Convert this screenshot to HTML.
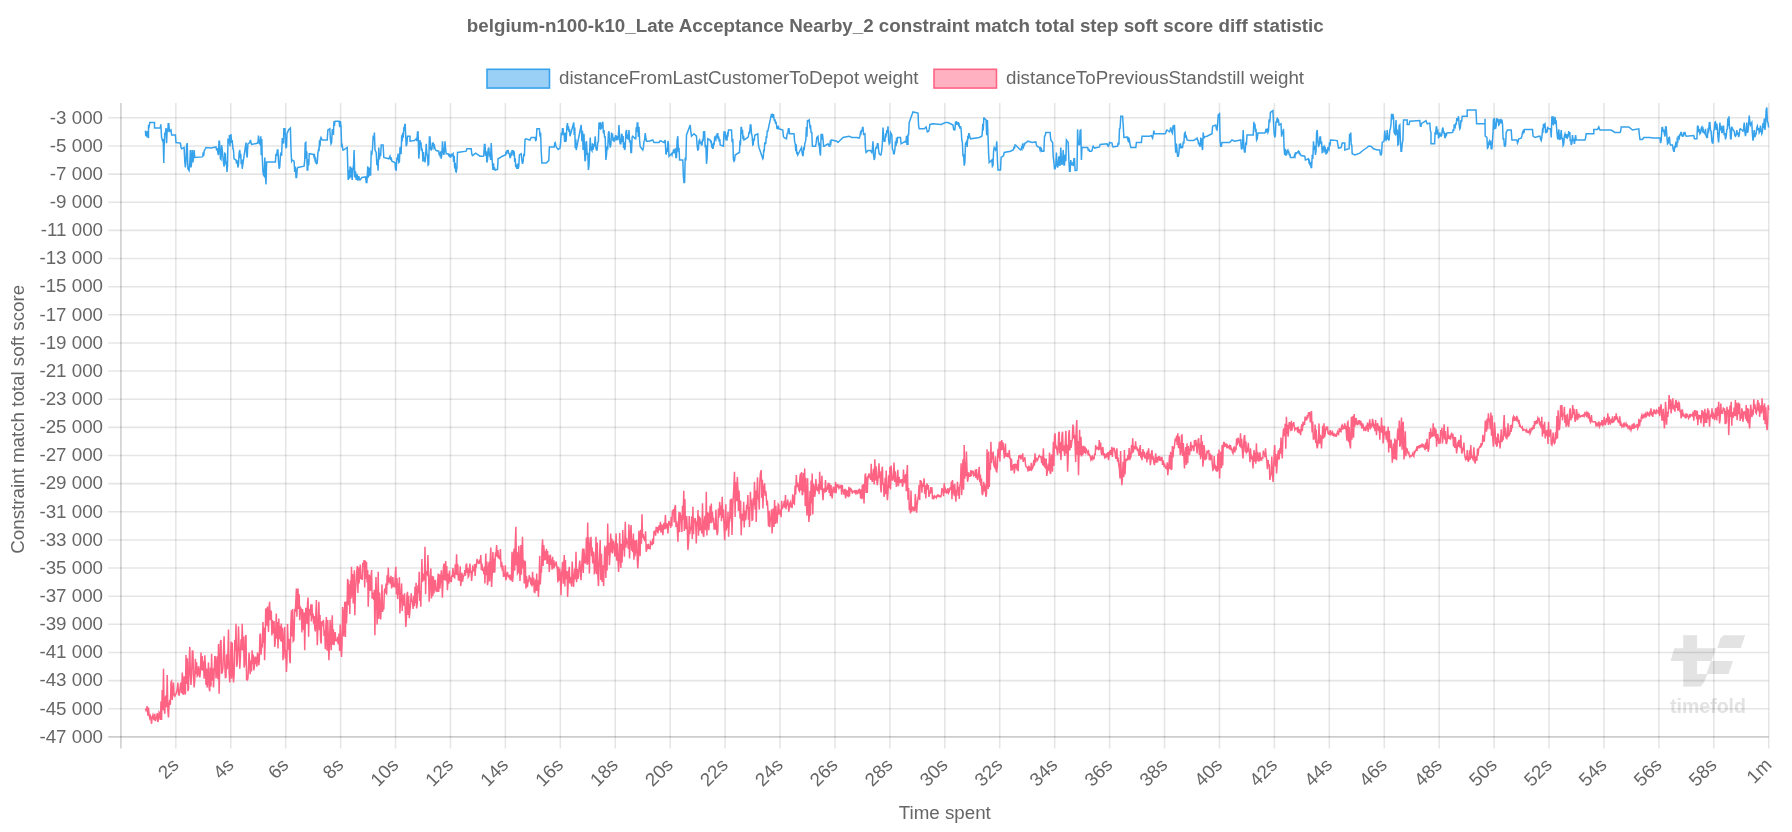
<!DOCTYPE html>
<html><head><meta charset="utf-8"><style>html,body{margin:0;padding:0;background:#fff;overflow:hidden}svg{display:block;will-change:transform}</style></head>
<body><svg width="1792" height="832" viewBox="0 0 1792 832">
<rect width="1792" height="832" fill="#fff"/><g fill="#e3e3e3"><polygon points="1683.22,635.19 1697.05,635.19 1697.05,686.62 1683.22,686.62"/><polygon points="1674.38,648.24 1715.85,648.24 1711.43,660.96 1670.51,660.96"/><polygon points="1723.59,635.19 1745.16,635.19 1740.73,647.91 1717.51,647.91 1720.27,638.51"/><polygon points="1710.87,660.96 1732.99,660.96 1728.57,673.90 1706.45,673.90"/><polygon points="1697.05,673.90 1707.56,673.90 1704.24,681.64 1700.92,686.62 1697.05,686.62"/></g><text x="1708" y="713.2" text-anchor="middle" fill="#e3e3e3" font-family="Liberation Sans" font-size="19.5" font-weight="bold">timefold</text><g stroke="rgba(0,0,0,0.1)" stroke-width="1.5625"><line x1="108.2" y1="736.90" x2="1768.75" y2="736.90"/><line x1="108.2" y1="708.76" x2="1768.75" y2="708.76"/><line x1="108.2" y1="680.62" x2="1768.75" y2="680.62"/><line x1="108.2" y1="652.48" x2="1768.75" y2="652.48"/><line x1="108.2" y1="624.34" x2="1768.75" y2="624.34"/><line x1="108.2" y1="596.20" x2="1768.75" y2="596.20"/><line x1="108.2" y1="568.06" x2="1768.75" y2="568.06"/><line x1="108.2" y1="539.92" x2="1768.75" y2="539.92"/><line x1="108.2" y1="511.78" x2="1768.75" y2="511.78"/><line x1="108.2" y1="483.64" x2="1768.75" y2="483.64"/><line x1="108.2" y1="455.50" x2="1768.75" y2="455.50"/><line x1="108.2" y1="427.36" x2="1768.75" y2="427.36"/><line x1="108.2" y1="399.22" x2="1768.75" y2="399.22"/><line x1="108.2" y1="371.08" x2="1768.75" y2="371.08"/><line x1="108.2" y1="342.94" x2="1768.75" y2="342.94"/><line x1="108.2" y1="314.80" x2="1768.75" y2="314.80"/><line x1="108.2" y1="286.66" x2="1768.75" y2="286.66"/><line x1="108.2" y1="258.52" x2="1768.75" y2="258.52"/><line x1="108.2" y1="230.38" x2="1768.75" y2="230.38"/><line x1="108.2" y1="202.24" x2="1768.75" y2="202.24"/><line x1="108.2" y1="174.10" x2="1768.75" y2="174.10"/><line x1="108.2" y1="145.96" x2="1768.75" y2="145.96"/><line x1="108.2" y1="117.82" x2="1768.75" y2="117.82"/><line x1="120.90" y1="103.1" x2="120.90" y2="748.6"/><line x1="175.83" y1="103.1" x2="175.83" y2="748.6"/><line x1="230.76" y1="103.1" x2="230.76" y2="748.6"/><line x1="285.68" y1="103.1" x2="285.68" y2="748.6"/><line x1="340.61" y1="103.1" x2="340.61" y2="748.6"/><line x1="395.54" y1="103.1" x2="395.54" y2="748.6"/><line x1="450.47" y1="103.1" x2="450.47" y2="748.6"/><line x1="505.40" y1="103.1" x2="505.40" y2="748.6"/><line x1="560.33" y1="103.1" x2="560.33" y2="748.6"/><line x1="615.25" y1="103.1" x2="615.25" y2="748.6"/><line x1="670.18" y1="103.1" x2="670.18" y2="748.6"/><line x1="725.11" y1="103.1" x2="725.11" y2="748.6"/><line x1="780.04" y1="103.1" x2="780.04" y2="748.6"/><line x1="834.97" y1="103.1" x2="834.97" y2="748.6"/><line x1="889.90" y1="103.1" x2="889.90" y2="748.6"/><line x1="944.82" y1="103.1" x2="944.82" y2="748.6"/><line x1="999.75" y1="103.1" x2="999.75" y2="748.6"/><line x1="1054.68" y1="103.1" x2="1054.68" y2="748.6"/><line x1="1109.61" y1="103.1" x2="1109.61" y2="748.6"/><line x1="1164.54" y1="103.1" x2="1164.54" y2="748.6"/><line x1="1219.47" y1="103.1" x2="1219.47" y2="748.6"/><line x1="1274.39" y1="103.1" x2="1274.39" y2="748.6"/><line x1="1329.32" y1="103.1" x2="1329.32" y2="748.6"/><line x1="1384.25" y1="103.1" x2="1384.25" y2="748.6"/><line x1="1439.18" y1="103.1" x2="1439.18" y2="748.6"/><line x1="1494.11" y1="103.1" x2="1494.11" y2="748.6"/><line x1="1549.04" y1="103.1" x2="1549.04" y2="748.6"/><line x1="1603.96" y1="103.1" x2="1603.96" y2="748.6"/><line x1="1658.89" y1="103.1" x2="1658.89" y2="748.6"/><line x1="1713.82" y1="103.1" x2="1713.82" y2="748.6"/><line x1="1768.75" y1="103.1" x2="1768.75" y2="748.6"/></g><g stroke="rgba(0,0,0,0.1)" stroke-width="1.5625"><line x1="108.2" y1="736.9" x2="1768.75" y2="736.9"/><line x1="120.9" y1="103.1" x2="120.9" y2="748.6"/></g><g fill="#666" font-family="Liberation Sans" font-size="18.75"><text x="103" y="742.70" text-anchor="end">-47 000</text><text x="103" y="714.56" text-anchor="end">-45 000</text><text x="103" y="686.42" text-anchor="end">-43 000</text><text x="103" y="658.28" text-anchor="end">-41 000</text><text x="103" y="630.14" text-anchor="end">-39 000</text><text x="103" y="602.00" text-anchor="end">-37 000</text><text x="103" y="573.86" text-anchor="end">-35 000</text><text x="103" y="545.72" text-anchor="end">-33 000</text><text x="103" y="517.58" text-anchor="end">-31 000</text><text x="103" y="489.44" text-anchor="end">-29 000</text><text x="103" y="461.30" text-anchor="end">-27 000</text><text x="103" y="433.16" text-anchor="end">-25 000</text><text x="103" y="405.02" text-anchor="end">-23 000</text><text x="103" y="376.88" text-anchor="end">-21 000</text><text x="103" y="348.74" text-anchor="end">-19 000</text><text x="103" y="320.60" text-anchor="end">-17 000</text><text x="103" y="292.46" text-anchor="end">-15 000</text><text x="103" y="264.32" text-anchor="end">-13 000</text><text x="103" y="236.18" text-anchor="end">-11 000</text><text x="103" y="208.04" text-anchor="end">-9 000</text><text x="103" y="179.90" text-anchor="end">-7 000</text><text x="103" y="151.76" text-anchor="end">-5 000</text><text x="103" y="123.62" text-anchor="end">-3 000</text><text transform="translate(176.33,762.50) rotate(-45)" text-anchor="end" dominant-baseline="middle">2s</text><text transform="translate(231.26,762.50) rotate(-45)" text-anchor="end" dominant-baseline="middle">4s</text><text transform="translate(286.18,762.50) rotate(-45)" text-anchor="end" dominant-baseline="middle">6s</text><text transform="translate(341.11,762.50) rotate(-45)" text-anchor="end" dominant-baseline="middle">8s</text><text transform="translate(396.04,762.50) rotate(-45)" text-anchor="end" dominant-baseline="middle">10s</text><text transform="translate(450.97,762.50) rotate(-45)" text-anchor="end" dominant-baseline="middle">12s</text><text transform="translate(505.90,762.50) rotate(-45)" text-anchor="end" dominant-baseline="middle">14s</text><text transform="translate(560.83,762.50) rotate(-45)" text-anchor="end" dominant-baseline="middle">16s</text><text transform="translate(615.75,762.50) rotate(-45)" text-anchor="end" dominant-baseline="middle">18s</text><text transform="translate(670.68,762.50) rotate(-45)" text-anchor="end" dominant-baseline="middle">20s</text><text transform="translate(725.61,762.50) rotate(-45)" text-anchor="end" dominant-baseline="middle">22s</text><text transform="translate(780.54,762.50) rotate(-45)" text-anchor="end" dominant-baseline="middle">24s</text><text transform="translate(835.47,762.50) rotate(-45)" text-anchor="end" dominant-baseline="middle">26s</text><text transform="translate(890.40,762.50) rotate(-45)" text-anchor="end" dominant-baseline="middle">28s</text><text transform="translate(945.32,762.50) rotate(-45)" text-anchor="end" dominant-baseline="middle">30s</text><text transform="translate(1000.25,762.50) rotate(-45)" text-anchor="end" dominant-baseline="middle">32s</text><text transform="translate(1055.18,762.50) rotate(-45)" text-anchor="end" dominant-baseline="middle">34s</text><text transform="translate(1110.11,762.50) rotate(-45)" text-anchor="end" dominant-baseline="middle">36s</text><text transform="translate(1165.04,762.50) rotate(-45)" text-anchor="end" dominant-baseline="middle">38s</text><text transform="translate(1219.97,762.50) rotate(-45)" text-anchor="end" dominant-baseline="middle">40s</text><text transform="translate(1274.89,762.50) rotate(-45)" text-anchor="end" dominant-baseline="middle">42s</text><text transform="translate(1329.82,762.50) rotate(-45)" text-anchor="end" dominant-baseline="middle">44s</text><text transform="translate(1384.75,762.50) rotate(-45)" text-anchor="end" dominant-baseline="middle">46s</text><text transform="translate(1439.68,762.50) rotate(-45)" text-anchor="end" dominant-baseline="middle">48s</text><text transform="translate(1494.61,762.50) rotate(-45)" text-anchor="end" dominant-baseline="middle">50s</text><text transform="translate(1549.54,762.50) rotate(-45)" text-anchor="end" dominant-baseline="middle">52s</text><text transform="translate(1604.46,762.50) rotate(-45)" text-anchor="end" dominant-baseline="middle">54s</text><text transform="translate(1659.39,762.50) rotate(-45)" text-anchor="end" dominant-baseline="middle">56s</text><text transform="translate(1714.32,762.50) rotate(-45)" text-anchor="end" dominant-baseline="middle">58s</text><text transform="translate(1769.25,762.50) rotate(-45)" text-anchor="end" dominant-baseline="middle">1m</text></g><text x="895.3" y="31.6" text-anchor="middle" fill="#666" font-family="Liberation Sans" font-size="18.75" font-weight="bold">belgium-n100-k10_Late Acceptance Nearby_2 constraint match total step soft score diff statistic</text><text x="944.8" y="819" text-anchor="middle" fill="#666" font-family="Liberation Sans" font-size="18.75">Time spent</text><text transform="translate(23.6,419.3) rotate(-90)" text-anchor="middle" fill="#666" font-family="Liberation Sans" font-size="18.75">Constraint match total soft score</text><rect x="487" y="69.3" width="62.5" height="18.75" fill="rgba(54,162,235,0.5)" stroke="rgb(54,162,235)" stroke-width="1.5625"/><text x="559" y="84" fill="#666" font-family="Liberation Sans" font-size="18.75">distanceFromLastCustomerToDepot weight</text><rect x="934" y="69.3" width="62.5" height="18.75" fill="rgba(255,99,132,0.5)" stroke="rgb(255,99,132)" stroke-width="1.5625"/><text x="1006" y="84" fill="#666" font-family="Liberation Sans" font-size="18.75">distanceToPreviousStandstill weight</text><polyline fill="none" stroke="rgb(54,162,235)" stroke-width="1.5" stroke-linejoin="miter" points="145.4,130.6 145.8,136.2 146.6,131.2 147.2,137.5 147.9,131.2 148.5,138.1 148.5,126.2 149.1,126.9 149.8,122.5 154.5,122.5 154.5,128.1 160.4,128.1 160.8,124.4 161.6,137.5 162.5,140.6 163.2,140.0 163.8,163.1 164.1,147.5 164.8,132.5 165.4,134.2 166.0,128.1 166.6,143.1 167.2,128.8 167.8,132.0 168.2,123.8 168.8,123.8 169.5,131.2 171.0,130.0 171.6,135.0 175.4,135.0 176.0,142.5 180.4,143.1 181.0,147.2 181.6,148.8 184.1,147.5 184.8,161.7 185.4,167.5 186.0,161.6 186.6,145.4 187.2,143.1 187.9,168.8 189.1,170.6 189.8,162.5 190.4,150.0 191.0,167.5 191.6,162.7 192.2,150.0 192.9,162.5 193.5,157.8 194.1,150.0 194.8,157.5 202.2,156.9 202.8,156.2 203.2,152.4 203.8,155.6 204.2,150.4 204.8,150.0 206.0,147.5 211.0,148.1 216.0,146.9 216.6,150.5 217.3,148.1 217.9,153.1 218.4,155.0 219.0,141.2 219.5,141.2 220.4,158.8 221.0,159.5 221.6,145.2 222.2,149.4 222.9,157.0 223.5,162.5 224.1,166.6 224.8,153.3 225.4,153.8 225.9,163.3 226.5,162.6 227.0,171.9 227.5,166.2 228.0,139.6 228.5,140.0 229.0,143.4 229.5,135.0 230.0,146.2 230.5,135.1 231.0,135.0 231.6,142.8 232.2,140.0 232.9,148.3 233.5,150.3 234.1,158.8 236.0,160.0 236.6,163.6 237.3,160.4 237.9,167.5 238.5,165.0 239.1,153.1 239.8,150.0 240.2,158.1 240.8,153.8 241.2,164.1 241.8,159.5 242.2,168.8 246.0,142.5 246.6,154.0 247.2,157.5 247.9,143.8 249.8,142.5 250.4,140.0 251.0,142.8 251.6,144.4 257.9,143.1 258.5,135.6 259.1,141.6 259.8,143.8 260.2,144.5 260.8,136.2 261.2,155.3 261.8,139.0 262.2,156.2 262.9,171.5 263.5,175.0 264.1,175.9 264.8,157.5 265.4,173.7 266.0,184.4 266.6,161.9 275.4,161.9 276.0,153.8 276.6,156.0 277.3,150.0 277.9,150.0 278.5,161.5 279.1,168.8 279.7,167.2 280.4,155.7 281.0,152.5 281.6,155.8 282.3,138.1 282.9,141.2 283.4,143.6 283.9,128.1 284.5,134.5 285.0,128.1 285.5,142.9 286.0,147.5 286.5,147.1 287.0,133.0 287.5,132.5 288.5,130.0 290.4,128.1 291.0,150.0 291.6,161.2 292.2,160.0 294.1,161.2 294.7,172.0 295.4,166.6 296.0,177.5 296.6,177.5 297.3,168.3 297.9,167.5 304.1,166.2 304.7,160.7 305.2,143.1 305.8,142.5 306.2,158.6 306.8,151.3 307.2,170.0 307.8,170.0 308.2,159.4 308.8,165.1 309.2,153.8 309.8,153.8 313.5,154.4 314.0,156.7 314.5,155.6 315.1,160.2 315.6,159.2 316.1,163.4 316.6,163.8 317.2,163.1 317.9,153.1 318.5,150.0 319.0,151.2 319.5,140.3 320.0,146.4 320.5,138.8 321.0,137.5 322.2,140.0 327.2,140.0 327.9,130.0 329.8,128.8 330.4,139.2 331.0,143.8 331.6,142.5 332.3,129.8 332.9,130.0 333.4,135.0 333.9,121.2 334.4,126.0 334.9,121.4 335.4,121.2 339.1,121.2 339.7,127.2 340.4,121.2 341.0,126.9 341.6,145.7 342.2,145.0 342.9,150.0 343.5,150.0 347.2,147.5 347.8,167.6 348.2,180.0 348.9,170.0 349.5,178.8 350.1,166.2 350.8,177.5 351.5,167.5 352.2,180.0 353.0,170.0 353.6,164.0 354.1,150.0 354.8,177.5 355.5,171.2 356.2,180.0 357.0,173.8 357.9,180.6 358.8,176.2 359.4,179.1 360.0,180.0 360.0,180.0 361.9,177.5 365.6,176.9 366.2,182.5 366.9,182.5 367.8,166.2 368.2,177.7 368.8,175.0 369.4,167.5 370.0,175.0 370.6,175.0 371.2,152.5 371.9,153.6 372.5,148.8 373.1,137.5 373.8,138.7 374.4,132.5 375.0,150.0 376.2,152.5 376.9,165.1 377.5,159.3 378.1,170.6 378.8,147.5 379.4,159.3 380.0,153.8 380.6,156.1 381.2,145.0 383.1,145.0 383.8,157.5 388.8,158.8 390.0,156.2 390.6,159.0 391.3,158.4 391.9,161.2 395.0,162.5 395.6,169.5 396.2,170.0 396.9,157.5 397.5,160.2 398.1,153.6 398.8,162.5 399.4,161.8 400.0,147.8 400.6,147.5 401.1,154.3 401.7,135.2 402.2,141.5 402.7,132.7 403.2,137.6 403.8,128.8 404.2,129.2 404.8,124.4 405.2,124.4 405.8,138.1 406.2,146.2 406.9,143.8 407.5,136.2 410.0,136.2 410.0,141.2 414.4,140.6 416.2,138.8 416.9,140.9 417.5,131.9 418.1,131.9 418.8,158.8 419.4,151.3 420.0,140.0 420.5,145.5 421.0,142.4 421.5,150.7 422.0,148.3 422.5,152.5 423.0,161.6 423.5,152.0 424.0,160.6 424.5,157.9 425.0,162.5 425.6,156.7 426.2,143.8 426.9,154.5 427.5,155.0 428.1,165.0 428.7,164.3 429.4,136.9 430.0,136.9 430.6,149.1 431.2,150.0 431.9,148.9 432.5,142.5 433.0,145.0 433.5,144.2 434.0,147.6 434.5,146.3 435.0,148.8 436.2,150.6 438.8,151.2 439.2,155.2 439.8,152.2 440.2,157.1 440.8,151.4 441.2,158.8 441.9,153.8 442.5,141.2 443.1,150.1 443.8,155.0 444.4,151.2 445.0,141.2 445.6,148.6 446.2,153.8 448.1,153.8 448.7,155.5 449.4,154.8 450.0,156.9 450.5,156.9 451.0,155.0 451.6,155.8 452.1,154.3 452.6,154.6 453.1,153.8 453.6,162.0 454.2,155.8 454.7,168.4 455.2,162.7 455.7,171.4 456.2,171.9 456.9,168.0 457.5,152.5 466.2,151.2 466.9,148.8 471.2,148.8 471.9,154.6 472.5,155.6 475.6,153.1 480.0,156.2 483.1,156.2 483.7,156.0 484.4,144.4 485.0,144.4 485.6,155.8 486.3,151.4 486.9,162.5 487.5,159.9 488.1,149.3 488.8,147.5 489.4,155.0 490.0,154.1 490.6,160.0 491.2,143.1 491.9,155.8 492.5,165.0 493.0,170.0 493.5,163.2 494.0,170.0 494.5,167.3 495.0,170.0 497.5,169.4 498.1,158.8 502.5,156.2 505.0,155.0 505.5,155.0 506.0,151.7 506.6,154.2 507.1,150.0 507.6,152.1 508.1,150.0 508.7,153.5 509.4,154.0 510.0,157.5 510.5,157.2 511.0,154.0 511.6,155.6 512.1,150.1 512.6,153.5 513.1,150.0 513.6,155.6 514.2,151.2 514.7,161.9 515.2,158.2 515.7,167.3 516.2,165.0 516.9,168.8 517.5,163.5 518.1,168.8 518.8,166.1 519.4,155.0 521.2,153.8 521.9,160.8 522.5,163.8 523.1,161.7 523.8,153.8 524.4,156.0 525.0,139.7 525.6,138.8 530.0,140.0 531.2,137.5 535.0,137.5 535.6,140.6 536.2,140.2 536.9,128.8 537.5,128.8 539.4,128.8 540.0,136.8 540.6,132.5 541.2,151.2 541.9,163.1 542.5,163.1 546.2,163.1 548.8,160.6 549.4,146.9 553.8,146.9 554.2,146.9 554.8,142.8 555.2,142.5 555.8,145.5 556.2,146.9 558.1,149.4 560.0,148.1 560.6,143.1 561.2,133.8 561.9,134.3 562.5,128.8 563.1,128.8 563.6,135.3 564.1,132.5 564.6,141.9 565.1,132.8 565.6,141.9 566.2,140.4 566.9,126.2 567.5,123.1 568.0,129.9 568.5,126.4 569.0,132.0 569.5,129.1 570.0,136.2 573.8,122.5 574.2,134.9 574.8,127.5 575.2,148.1 575.8,139.2 576.2,150.0 581.2,125.0 581.9,141.2 582.5,130.7 583.1,150.0 584.0,133.8 584.5,151.1 585.0,161.2 585.5,159.7 586.0,142.4 586.5,141.2 587.1,154.8 587.8,152.8 588.4,170.0 589.0,165.9 589.6,152.5 590.2,137.5 590.9,149.8 591.5,150.0 592.0,150.9 592.5,143.2 593.0,150.0 593.5,144.3 594.0,146.2 594.6,144.5 595.2,136.2 595.9,147.6 596.5,150.0 597.1,150.0 597.8,142.5 598.4,141.5 599.0,122.5 599.6,128.8 600.3,122.2 600.9,128.8 601.5,128.2 602.1,123.6 602.8,121.9 603.4,133.3 604.0,130.0 604.6,137.7 605.2,136.2 605.9,160.0 606.5,155.3 607.1,146.2 607.7,149.7 608.4,132.9 609.0,131.2 609.6,142.7 610.2,147.5 610.9,144.4 611.5,132.5 612.0,137.9 612.5,133.6 613.0,141.0 613.5,137.5 614.0,141.2 614.6,141.0 615.3,136.5 615.9,135.0 616.5,140.4 617.1,136.2 617.8,140.0 618.4,135.3 619.0,125.0 619.6,139.7 620.2,143.8 620.9,143.8 621.5,133.7 622.1,135.0 622.6,142.2 623.1,136.1 623.6,147.9 624.1,142.2 624.6,150.0 625.2,147.6 625.9,132.4 626.5,130.0 627.1,138.6 627.8,134.7 628.4,140.0 629.0,130.0 629.6,142.4 630.3,140.4 630.9,152.5 631.5,152.5 632.1,137.3 632.8,136.2 635.2,138.8 635.8,138.8 636.2,127.3 636.8,131.8 637.2,123.1 637.8,123.1 638.4,136.9 639.0,126.9 639.6,140.0 640.2,146.7 640.9,147.5 642.8,150.0 643.4,147.4 644.0,141.2 644.6,140.5 645.2,133.1 645.9,137.9 646.5,141.2 649.0,141.2 652.8,140.0 654.0,142.5 659.0,142.5 660.2,140.6 664.0,142.5 665.2,140.0 665.9,153.8 666.4,154.0 666.9,148.3 667.4,151.9 667.9,141.0 668.4,143.8 669.0,156.2 671.5,153.8 672.0,155.0 672.5,151.8 673.0,153.5 673.5,150.0 674.0,150.0 674.6,153.3 675.3,148.3 675.9,157.5 676.5,157.5 677.1,140.2 677.8,136.2 678.4,152.2 679.0,147.8 679.6,160.0 682.8,160.0 683.4,176.4 684.0,182.5 684.6,182.5 685.2,157.5 685.9,160.6 686.5,135.0 690.2,125.0 690.9,131.9 691.5,136.2 694.0,133.8 696.5,136.2 697.1,145.7 697.8,150.0 698.4,149.6 699.0,141.1 699.6,140.0 700.2,142.9 700.9,142.5 701.5,145.0 702.0,145.0 702.5,139.4 703.1,141.2 703.6,131.2 704.1,136.0 704.6,131.2 705.2,147.4 705.9,145.0 706.5,163.8 707.1,158.2 707.8,138.8 710.2,140.0 710.8,142.6 711.2,140.5 711.8,147.8 712.2,143.6 712.8,148.8 713.2,147.7 713.8,143.3 714.2,143.6 714.8,136.4 715.2,138.8 715.8,139.9 716.2,136.2 716.8,136.7 717.2,133.8 717.8,133.8 718.2,139.4 718.8,136.6 719.2,141.8 719.8,139.1 720.2,145.0 723.4,146.2 724.0,131.2 724.5,136.4 725.0,131.2 725.5,137.9 726.0,136.9 726.5,140.0 727.0,140.0 727.5,134.1 728.0,134.9 728.5,130.0 729.0,130.0 731.5,130.0 732.1,142.1 732.8,138.8 733.4,159.2 734.0,161.2 734.6,160.2 735.2,155.0 739.0,152.5 739.5,152.5 740.0,140.3 740.5,145.3 741.0,127.6 741.5,127.5 742.0,134.1 742.5,129.7 743.0,139.1 743.5,135.7 744.0,140.0 747.8,137.5 748.4,136.3 749.0,132.5 749.6,132.7 750.3,125.0 750.9,125.0 751.5,133.7 752.1,136.0 752.8,145.0 753.2,144.7 753.8,138.5 754.2,140.6 754.8,135.3 755.2,135.0 757.8,133.8 758.4,144.5 759.0,147.5 762.8,158.8 763.2,158.0 763.8,149.6 764.2,151.5 764.8,142.2 765.2,143.8 765.8,143.3 766.2,137.0 766.8,137.2 767.2,131.2 767.8,131.2 771.5,113.8 772.0,115.9 772.5,115.1 773.0,117.8 773.5,114.0 774.0,118.8 774.5,121.1 775.0,119.4 775.5,123.7 776.0,121.7 776.5,125.0 777.0,128.8 777.5,125.8 778.0,128.0 778.5,127.0 779.0,128.8 782.8,130.0 783.4,136.3 784.0,137.5 786.5,138.8 787.1,133.8 787.7,133.7 788.4,128.8 789.0,128.8 789.6,133.8 794.0,133.8 794.6,141.4 795.2,143.8 795.8,151.3 796.2,144.4 796.8,154.1 797.2,151.8 797.8,155.0 801.5,147.5 802.1,152.8 802.8,156.2 803.2,154.7 803.8,146.9 804.2,149.9 804.8,143.7 805.2,142.5 805.8,140.2 806.4,127.1 806.9,136.8 807.5,120.0 808.0,121.2 809.2,120.0 809.9,126.4 810.5,125.0 811.1,132.4 811.8,132.5 812.4,146.2 815.5,146.2 816.1,143.4 816.8,137.5 818.0,136.2 818.6,144.3 819.2,143.8 819.9,152.2 820.5,155.6 821.1,133.8 821.7,139.7 822.4,133.9 823.0,138.8 823.6,146.2 824.2,146.2 828.0,143.8 829.2,146.2 829.8,146.2 830.2,142.4 830.8,143.4 831.2,140.0 831.8,140.0 836.8,141.2 838.0,142.5 843.0,137.5 849.2,136.2 851.8,137.5 856.8,137.5 859.2,138.1 859.9,136.2 860.5,132.5 861.0,133.3 861.5,129.8 862.0,131.4 862.5,127.5 863.0,127.5 863.6,134.4 864.9,133.8 865.5,148.4 866.1,152.5 868.0,150.6 870.5,150.6 871.8,152.5 872.4,149.2 873.0,141.2 873.6,154.6 874.2,160.0 874.9,157.2 875.5,149.0 876.1,147.5 876.7,147.8 877.4,143.8 878.0,143.8 878.6,149.7 879.2,153.8 880.5,155.0 881.1,154.6 881.8,150.0 882.4,143.0 883.0,127.5 883.6,137.4 884.2,141.2 884.9,141.2 885.5,135.0 886.1,135.8 886.8,130.0 887.4,133.0 888.0,126.2 888.6,139.4 889.2,143.8 889.9,142.9 890.5,132.5 891.8,135.0 892.4,149.2 893.0,150.0 893.6,153.8 894.2,153.8 894.9,149.5 895.5,141.2 896.0,146.1 896.5,137.9 897.0,143.4 897.5,137.5 898.0,137.5 900.5,137.5 901.1,143.8 905.5,141.2 906.0,142.8 906.5,135.9 907.0,145.0 907.5,138.7 908.0,145.0 908.0,135.0 908.6,134.9 909.2,122.5 913.0,111.9 918.0,113.1 918.6,125.6 919.2,128.8 924.2,128.8 926.1,126.9 926.8,129.9 927.4,131.9 928.6,131.2 929.2,129.4 929.9,124.4 933.0,123.8 941.1,124.4 945.5,122.5 948.0,122.5 953.0,125.0 953.6,129.2 954.2,130.0 954.9,129.8 955.5,122.2 956.1,121.9 956.6,124.8 957.2,121.9 957.7,124.4 958.2,122.2 958.7,126.3 959.2,125.0 959.9,128.6 960.5,126.1 961.1,128.8 961.8,140.0 962.4,142.5 963.0,156.5 963.6,154.2 964.2,165.6 964.9,162.1 965.5,143.8 966.8,141.2 967.2,147.0 967.8,135.8 968.2,139.2 968.8,133.8 969.2,133.8 969.9,137.3 970.5,138.8 979.2,137.5 981.8,136.2 982.2,134.0 982.8,123.7 983.2,130.4 983.8,118.1 984.2,118.1 986.1,120.0 986.7,135.2 987.4,120.0 988.0,136.2 988.6,153.1 989.2,162.5 991.8,160.0 992.4,166.2 993.0,165.2 993.6,151.1 994.2,147.5 995.5,150.0 996.1,148.2 996.8,141.2 997.4,159.8 998.0,170.0 1000.5,170.0 1001.1,157.5 1003.0,156.2 1003.6,155.7 1004.2,152.5 1010.5,151.2 1013.0,150.0 1013.5,149.8 1014.0,146.6 1014.5,148.7 1015.0,145.0 1015.5,145.0 1018.0,147.5 1020.5,150.0 1021.0,149.9 1021.5,147.7 1022.0,148.7 1022.5,145.0 1023.0,146.2 1023.5,147.3 1024.0,144.2 1024.5,144.7 1025.0,143.2 1025.5,143.1 1028.0,141.2 1032.0,142.5 1035.8,141.9 1036.4,144.7 1037.0,146.2 1039.5,147.5 1040.0,149.6 1040.5,148.4 1041.0,150.6 1041.5,149.4 1042.0,151.2 1043.9,151.2 1044.5,136.2 1045.1,136.0 1045.8,132.5 1050.1,132.5 1050.8,140.0 1052.6,142.5 1053.2,156.7 1053.9,162.5 1054.5,168.8 1055.1,168.8 1055.8,164.9 1056.4,152.5 1057.0,164.2 1057.6,167.5 1058.2,164.9 1058.9,156.2 1059.5,164.9 1060.1,165.0 1060.8,147.5 1061.4,159.8 1062.0,165.0 1062.6,161.0 1063.2,150.0 1063.9,165.0 1064.5,165.0 1065.1,154.5 1065.8,161.2 1066.4,140.0 1068.2,142.5 1068.9,160.8 1069.5,171.2 1070.1,171.2 1070.8,160.0 1071.4,165.4 1072.0,162.4 1072.6,165.0 1073.2,165.3 1073.9,158.8 1074.5,158.8 1075.1,170.6 1075.8,170.6 1077.0,170.0 1077.6,129.4 1078.2,144.6 1078.9,143.8 1079.5,145.1 1080.1,130.6 1080.8,130.0 1081.4,160.0 1082.0,147.5 1087.6,147.5 1088.2,150.0 1088.9,149.5 1089.5,151.2 1091.4,151.2 1092.0,150.7 1092.6,147.4 1093.2,146.2 1094.5,148.1 1099.5,146.9 1100.1,144.4 1107.0,143.8 1108.2,146.2 1108.9,145.2 1109.5,142.5 1112.0,143.1 1112.6,146.3 1113.2,146.9 1117.0,146.2 1117.6,146.2 1118.2,142.5 1118.9,144.6 1119.5,128.8 1120.1,128.1 1120.8,116.2 1122.6,116.2 1123.2,125.0 1123.9,137.5 1124.5,137.5 1127.0,136.9 1127.5,138.6 1128.0,136.9 1128.5,142.5 1129.0,137.7 1129.5,140.6 1130.1,144.6 1130.8,147.5 1135.8,147.5 1136.4,142.5 1141.4,142.5 1142.0,136.2 1149.5,136.2 1151.4,135.6 1152.6,138.1 1153.2,134.9 1153.9,130.6 1154.5,133.7 1155.1,133.8 1157.0,133.8 1165.1,133.8 1165.7,133.2 1166.4,130.7 1167.0,130.0 1169.5,131.9 1170.1,130.2 1170.8,127.5 1171.4,130.8 1172.0,132.5 1172.5,133.4 1173.0,125.6 1173.5,129.4 1174.0,125.6 1174.5,125.6 1175.1,140.0 1175.7,152.7 1176.4,143.5 1177.0,150.0 1177.6,156.2 1178.2,156.2 1178.9,153.4 1179.5,143.8 1180.0,148.5 1180.5,143.2 1181.0,148.4 1181.5,145.8 1182.0,147.5 1182.6,147.5 1183.2,142.5 1183.9,142.7 1184.5,133.3 1185.1,132.5 1185.7,136.9 1186.4,136.4 1187.0,140.0 1189.5,140.6 1193.2,140.6 1194.5,140.0 1197.0,138.1 1197.5,140.1 1198.0,140.2 1198.5,144.3 1199.0,142.6 1199.5,145.0 1200.1,146.7 1200.8,138.4 1201.4,138.8 1202.0,146.9 1202.6,150.0 1203.2,132.5 1203.9,138.4 1204.5,136.9 1207.0,136.2 1212.0,133.8 1212.6,126.2 1215.8,125.0 1216.4,129.3 1217.0,130.0 1217.6,125.3 1218.2,115.0 1219.5,113.8 1220.1,141.0 1220.8,146.2 1221.4,146.2 1222.0,142.5 1229.5,142.5 1232.0,140.0 1234.5,141.2 1240.8,140.0 1241.4,148.8 1242.0,148.8 1242.6,144.8 1243.2,130.0 1243.9,148.1 1244.5,151.9 1245.1,151.9 1245.8,142.4 1246.4,145.0 1247.0,135.0 1253.2,135.0 1253.9,121.9 1254.4,128.5 1254.9,123.8 1255.5,132.0 1256.0,128.8 1256.6,140.0 1257.2,138.8 1257.9,133.1 1264.8,133.1 1265.4,132.2 1266.0,128.8 1266.6,131.1 1267.3,129.7 1267.9,132.5 1268.5,130.8 1269.1,119.2 1269.8,122.5 1270.4,112.5 1272.9,110.6 1273.5,122.5 1274.1,132.8 1274.8,137.5 1275.4,134.8 1276.0,121.2 1276.6,122.7 1277.2,117.5 1277.9,121.2 1278.5,120.4 1279.1,125.0 1281.0,123.8 1281.6,136.7 1282.2,132.5 1282.9,134.2 1283.5,128.8 1284.1,148.8 1284.7,155.0 1285.4,148.9 1286.0,155.0 1286.6,154.7 1287.3,150.8 1287.9,150.0 1288.4,152.4 1288.9,152.1 1289.4,155.5 1289.9,153.6 1290.4,157.5 1293.5,157.5 1294.0,157.5 1294.5,155.5 1295.0,156.5 1295.5,152.3 1296.0,153.8 1298.5,151.2 1299.0,153.0 1299.5,152.5 1300.0,154.4 1300.5,154.3 1301.0,155.6 1304.8,156.2 1305.4,160.0 1308.5,158.8 1309.0,162.0 1309.5,161.2 1310.0,165.5 1310.5,162.0 1311.0,167.5 1311.6,167.5 1312.2,156.2 1312.9,157.1 1313.5,141.2 1314.1,150.0 1314.8,145.5 1315.4,155.0 1316.0,151.3 1316.6,132.9 1317.2,130.0 1317.9,142.5 1318.5,146.2 1319.1,145.6 1319.8,137.6 1320.4,136.2 1321.0,144.1 1321.6,141.5 1322.2,152.5 1322.9,152.1 1323.5,146.8 1324.1,146.2 1324.7,150.6 1325.4,148.9 1326.0,153.8 1326.5,153.7 1327.0,150.7 1327.5,151.4 1328.0,147.2 1328.5,148.8 1329.0,149.7 1329.5,142.3 1330.0,146.2 1330.5,140.0 1331.0,140.0 1337.2,140.6 1337.9,144.9 1338.5,148.1 1341.0,147.5 1341.6,145.7 1342.2,143.1 1344.8,143.1 1344.8,150.0 1348.5,148.8 1349.1,148.8 1349.6,133.8 1350.2,140.9 1350.8,132.5 1351.2,144.6 1351.8,145.1 1352.2,153.8 1354.8,155.0 1359.8,153.1 1363.5,150.0 1367.2,147.5 1368.5,146.2 1371.0,146.2 1373.5,148.8 1377.2,150.0 1379.8,150.0 1380.4,154.7 1381.0,155.0 1381.6,153.3 1382.2,142.5 1384.1,141.2 1384.8,130.6 1385.4,138.7 1386.0,140.0 1386.6,138.5 1387.2,130.0 1387.9,138.9 1388.5,140.0 1389.1,139.9 1389.8,129.9 1390.4,128.8 1391.0,124.2 1391.6,113.8 1392.2,119.3 1392.9,113.8 1393.5,117.5 1394.1,132.3 1394.8,133.8 1395.4,134.4 1396.0,120.0 1396.6,134.6 1397.3,129.6 1397.9,145.0 1398.5,144.5 1399.1,125.8 1399.8,125.0 1400.4,140.3 1401.0,151.2 1401.6,151.2 1402.2,143.8 1402.9,140.1 1403.5,120.0 1404.1,120.0 1407.2,120.0 1407.2,124.4 1409.1,124.4 1409.8,121.2 1419.8,120.6 1420.4,126.2 1421.0,126.2 1421.6,123.3 1422.2,123.1 1426.0,120.6 1426.6,122.5 1427.2,123.8 1429.8,123.1 1430.4,130.7 1431.0,132.5 1431.0,143.8 1434.1,143.8 1434.6,143.8 1435.1,132.1 1435.6,135.0 1436.1,128.2 1436.6,126.2 1437.2,132.4 1437.9,131.1 1438.5,137.5 1439.1,137.0 1439.8,132.5 1440.4,135.7 1441.0,136.2 1441.6,135.4 1442.3,129.7 1442.9,127.5 1443.5,132.4 1444.1,132.2 1444.8,137.5 1445.2,137.5 1445.8,133.2 1446.2,136.3 1446.8,133.1 1447.2,133.1 1452.2,132.5 1452.8,132.1 1453.2,129.1 1453.8,130.9 1454.2,124.2 1454.8,126.2 1455.2,127.0 1455.8,123.0 1456.2,124.6 1456.8,118.0 1457.2,120.0 1457.9,120.5 1458.5,116.2 1459.1,124.3 1459.8,128.8 1460.4,127.6 1461.0,120.0 1461.6,122.2 1462.2,116.2 1467.2,116.2 1467.2,110.0 1476.0,110.0 1476.6,123.8 1480.0,123.8 1485.0,123.8 1485.0,118.8 1485.2,136.2 1486.9,137.5 1487.5,148.1 1488.1,147.4 1488.8,142.6 1489.4,141.2 1490.0,145.2 1490.6,140.6 1491.2,148.8 1491.9,148.8 1492.5,140.0 1493.0,133.1 1493.5,118.8 1494.0,129.8 1494.5,118.1 1495.0,125.0 1495.6,128.8 1496.2,125.7 1496.9,118.1 1497.5,121.8 1498.1,119.1 1498.8,125.0 1499.4,124.2 1500.0,119.6 1500.6,119.4 1501.2,123.4 1501.9,119.7 1502.5,123.8 1503.1,138.9 1503.8,138.8 1504.4,145.9 1505.0,146.2 1505.6,144.8 1506.2,132.5 1507.5,130.0 1511.2,130.0 1511.9,140.0 1516.9,140.0 1517.5,143.1 1518.1,141.8 1518.8,138.8 1521.2,138.1 1521.9,136.0 1522.5,132.5 1523.0,133.0 1523.5,129.6 1524.0,132.9 1524.5,129.4 1525.0,129.4 1532.5,129.4 1533.1,136.2 1535.0,137.5 1538.8,136.2 1540.0,136.2 1540.6,139.6 1541.2,140.6 1541.9,137.2 1542.5,130.0 1543.0,130.9 1543.5,123.8 1544.0,128.1 1544.5,124.3 1545.0,123.8 1545.6,132.5 1546.1,132.5 1546.6,129.4 1547.1,132.5 1547.6,126.7 1548.1,128.8 1550.6,128.8 1551.2,137.5 1551.9,116.2 1552.5,124.6 1553.1,116.2 1553.8,123.8 1554.4,122.8 1555.0,116.9 1555.6,122.7 1556.2,121.9 1556.9,132.2 1557.5,137.5 1558.1,139.5 1558.8,129.4 1559.4,137.7 1560.0,140.0 1560.6,136.3 1561.2,130.0 1561.9,139.2 1562.5,137.7 1563.1,145.6 1563.7,144.4 1564.4,135.8 1565.0,133.8 1565.5,135.9 1566.0,134.2 1566.5,136.9 1567.0,135.7 1567.5,137.5 1568.1,136.5 1568.8,131.2 1569.2,135.4 1569.8,132.1 1570.2,141.3 1570.8,139.9 1571.2,145.0 1571.9,143.0 1572.5,135.0 1573.1,140.9 1573.8,138.9 1574.4,143.8 1575.0,140.1 1575.6,135.0 1576.2,140.0 1585.0,140.0 1585.6,138.1 1586.2,133.8 1593.8,133.8 1593.8,129.4 1597.5,129.4 1598.8,126.9 1599.4,129.0 1600.0,130.0 1611.2,130.0 1615.0,132.5 1620.0,132.5 1620.6,131.5 1621.2,126.9 1628.8,126.9 1632.5,130.0 1638.8,128.8 1639.4,135.4 1640.0,139.4 1642.5,139.4 1643.8,137.5 1650.0,137.5 1652.5,138.1 1660.0,138.1 1660.6,143.1 1661.2,140.6 1661.9,127.7 1662.5,127.5 1663.1,130.8 1663.8,130.4 1664.4,133.8 1665.0,136.5 1665.6,126.9 1666.2,126.9 1666.9,136.7 1667.5,143.8 1668.1,143.1 1668.8,138.0 1669.4,137.5 1670.0,143.7 1670.6,145.0 1672.5,145.0 1673.1,149.0 1673.8,151.2 1674.2,151.2 1674.8,145.8 1675.2,148.0 1675.8,143.2 1676.2,143.8 1676.8,147.1 1677.2,139.7 1677.8,140.9 1678.2,135.7 1678.8,137.5 1679.2,138.3 1679.8,134.8 1680.2,134.9 1680.8,132.5 1681.2,132.5 1681.9,135.6 1682.5,136.2 1683.0,136.2 1683.5,133.5 1684.0,134.3 1684.5,132.7 1685.0,132.5 1685.6,135.1 1686.2,136.2 1693.8,135.6 1694.4,138.8 1696.2,138.8 1696.9,138.8 1697.5,126.2 1698.1,126.2 1698.7,131.0 1699.4,130.2 1700.0,133.8 1700.6,132.9 1701.3,127.7 1701.9,126.9 1702.5,130.6 1703.1,129.0 1703.7,132.5 1704.2,132.5 1704.9,133.6 1705.5,128.8 1706.1,135.8 1706.8,137.5 1707.4,137.5 1708.0,130.0 1708.6,131.1 1709.3,122.6 1709.9,122.5 1710.5,130.2 1711.1,131.2 1711.8,140.7 1712.4,143.1 1713.0,143.1 1713.6,131.2 1714.2,130.1 1714.9,122.3 1715.5,121.9 1716.1,130.0 1716.8,123.6 1717.4,128.8 1718.0,137.4 1718.6,142.5 1719.2,134.1 1719.9,122.5 1720.5,130.3 1721.1,125.9 1721.8,132.5 1722.4,132.5 1723.0,126.2 1723.6,126.2 1724.2,135.2 1724.9,133.1 1725.5,139.4 1726.1,136.9 1726.8,130.0 1727.3,128.8 1727.9,118.3 1728.4,125.9 1729.0,116.2 1729.5,128.1 1730.0,128.2 1730.5,138.8 1731.1,138.8 1731.8,126.6 1732.4,128.8 1734.2,131.2 1734.9,135.7 1735.5,136.2 1736.1,135.0 1736.8,130.0 1737.4,134.4 1738.0,132.5 1738.6,136.9 1739.2,135.0 1739.9,129.0 1740.5,128.8 1743.0,131.2 1743.6,129.0 1744.2,122.5 1744.9,132.5 1745.5,136.2 1746.1,131.8 1746.8,122.5 1747.4,132.6 1748.0,131.2 1748.6,125.4 1749.2,115.6 1749.9,122.5 1750.5,125.0 1751.8,122.5 1752.4,134.1 1753.0,140.6 1753.6,137.4 1754.2,130.0 1754.9,137.1 1755.5,135.0 1756.1,134.1 1756.8,127.8 1757.4,126.2 1758.0,130.0 1758.6,128.0 1759.2,132.5 1759.9,130.8 1760.5,125.6 1761.1,131.1 1761.8,133.8 1762.4,131.6 1763.0,123.1 1763.6,128.1 1764.3,118.6 1764.9,130.0 1765.5,124.7 1766.1,110.4 1766.8,107.5 1767.4,121.7 1768.0,122.5 1768.6,127.5"/><polyline fill="none" stroke="rgb(255,99,132)" stroke-width="1.5" stroke-linejoin="miter" points="145.4,708.8 146.0,710.3 146.6,708.6 147.2,706.2 147.9,715.6 148.5,707.5 149.1,715.0 149.8,718.1 150.4,716.2 151.0,719.0 151.6,723.8 152.2,717.0 152.9,715.0 153.5,718.2 154.1,720.0 154.8,713.8 155.4,721.1 156.0,718.8 156.6,717.8 157.2,713.0 157.9,722.0 158.5,718.8 159.1,712.5 159.8,714.0 160.4,720.0 161.0,701.2 161.6,719.9 162.2,690.0 162.9,710.2 163.5,668.8 164.1,707.7 164.8,713.8 165.4,697.3 166.0,696.2 166.6,707.3 167.2,675.0 167.9,711.3 168.5,717.5 169.1,703.8 169.8,700.0 170.4,704.8 171.0,682.2 171.6,681.2 172.2,700.0 172.9,693.2 173.5,682.5 174.1,694.8 174.8,696.2 175.4,694.5 176.0,693.8 176.6,691.8 177.3,688.3 177.9,682.5 178.5,694.5 179.1,695.0 179.7,691.9 180.4,685.0 181.0,682.5 181.6,693.2 182.3,672.5 182.9,693.8 183.5,694.1 184.1,676.4 184.8,691.2 185.4,694.6 186.0,655.0 186.6,684.1 187.3,658.2 187.9,691.2 188.5,688.6 189.1,663.3 189.8,646.9 190.4,675.6 191.0,685.0 191.6,674.6 192.3,651.1 192.9,651.2 193.5,674.8 194.1,687.5 194.8,679.7 195.4,658.8 196.0,674.3 196.6,662.2 197.2,676.2 197.9,675.4 198.5,666.2 199.1,669.9 199.8,677.5 200.4,672.5 201.0,652.5 201.6,670.2 202.2,656.0 202.9,670.7 203.5,661.2 204.1,678.8 204.8,655.2 205.4,665.0 206.0,685.1 206.6,668.5 207.2,687.5 207.9,676.2 208.5,662.4 209.1,687.5 209.7,691.3 210.4,667.5 211.0,686.6 211.6,653.8 212.2,680.8 212.9,668.2 213.5,687.5 214.1,674.4 214.8,656.1 215.4,657.5 216.0,678.4 216.6,672.0 217.2,656.2 217.9,679.3 218.5,644.0 219.1,693.8 219.7,668.6 220.4,642.2 221.0,640.0 221.6,673.7 222.2,672.5 222.9,668.5 223.5,651.3 224.1,636.2 224.8,665.3 225.4,677.5 226.0,677.2 226.6,654.3 227.3,669.2 227.9,654.2 228.5,629.4 229.1,672.7 229.8,682.5 230.4,666.7 231.0,641.5 231.6,678.8 232.2,642.5 232.9,669.7 233.5,682.5 234.1,675.1 234.8,639.9 235.4,650.8 236.0,623.8 236.6,666.8 237.2,663.8 237.9,647.2 238.5,626.2 239.1,645.5 239.8,668.8 240.4,657.5 241.0,639.3 241.6,650.1 242.2,623.8 242.9,650.5 243.5,636.5 244.1,667.5 244.7,664.6 245.4,636.7 246.0,635.0 246.6,679.5 247.2,680.0 247.9,678.7 248.5,667.9 249.0,652.5 249.6,660.3 250.2,674.1 250.8,660.5 251.5,671.5 252.1,650.3 252.7,663.9 253.2,654.6 253.8,670.3 254.4,666.3 255.0,656.6 255.7,664.2 256.3,656.9 256.9,666.7 257.5,652.5 258.2,656.1 258.8,665.3 259.3,660.4 259.9,635.4 260.5,633.5 261.1,654.7 261.7,644.0 262.3,647.6 263.0,621.9 263.5,642.9 264.1,627.6 264.6,660.3 265.2,640.2 265.7,608.5 266.3,610.2 266.9,625.6 267.4,606.6 268.0,620.2 268.5,631.9 269.1,607.2 269.6,601.8 270.2,620.2 270.8,610.6 271.3,611.8 271.9,635.6 272.4,620.0 273.0,633.5 273.5,623.6 274.1,621.3 274.7,646.9 275.2,642.1 275.8,628.3 276.3,613.5 276.9,638.7 277.4,622.1 278.0,648.6 278.8,618.5 279.5,639.3 280.1,625.8 280.7,641.2 281.3,623.5 281.9,642.0 282.5,627.8 283.0,660.3 283.6,652.0 284.1,636.6 284.7,626.9 285.2,658.5 285.8,650.0 286.4,672.0 286.9,661.7 287.5,624.1 288.0,638.6 288.6,649.8 289.1,638.9 289.7,660.3 290.2,663.2 290.8,626.4 291.4,610.2 292.0,636.4 292.6,609.1 293.2,641.2 293.9,640.2 294.7,610.2 295.3,610.6 295.8,602.4 296.4,588.5 296.9,616.8 297.5,593.2 298.0,588.5 298.6,609.1 299.2,594.2 299.7,620.2 300.3,607.2 300.8,608.0 301.4,610.2 301.9,632.5 302.5,609.1 303.1,615.2 303.6,629.9 304.2,612.6 304.7,650.3 305.3,621.6 305.8,607.9 306.4,616.9 307.0,623.9 307.5,603.8 308.1,597.6 308.6,636.7 309.2,609.1 309.7,615.2 310.3,613.1 310.9,604.2 311.4,621.4 312.0,604.2 312.5,618.5 313.1,613.5 313.6,623.7 314.2,616.1 314.8,628.5 315.3,631.5 315.9,612.4 316.4,600.1 317.3,645.2 317.8,629.8 318.4,615.8 318.9,601.8 319.5,630.3 320.0,614.9 320.6,640.2 321.2,643.6 321.7,621.3 322.3,625.2 322.9,623.9 323.5,619.8 324.1,635.9 324.8,630.2 325.3,649.2 325.9,625.4 326.4,616.9 327.1,650.8 327.7,620.0 328.3,635.8 328.9,660.3 329.5,644.4 330.1,619.9 330.6,633.5 331.2,650.2 331.7,629.2 332.3,615.2 332.8,644.6 333.4,629.2 334.0,645.2 334.6,636.7 335.2,632.1 335.8,640.5 336.5,640.2 337.1,641.1 337.7,636.8 338.3,644.5 339.0,633.5 339.6,650.9 340.2,624.4 340.9,645.7 341.5,656.9 342.0,645.1 342.6,607.1 343.1,613.5 343.7,636.5 344.3,613.3 344.8,601.8 345.4,637.0 345.9,601.6 346.5,623.5 347.0,610.6 347.6,578.9 348.2,581.8 348.7,605.3 349.3,584.2 349.8,614.0 350.4,580.3 350.9,598.8 351.5,566.7 352.1,597.3 352.6,573.9 353.2,603.5 353.7,594.4 354.3,570.2 354.8,615.2 355.4,592.0 356.0,583.6 356.5,573.4 357.4,565.9 357.9,593.1 358.5,567.3 359.0,583.4 359.6,575.9 360.3,564.5 360.9,579.2 361.5,575.1 362.2,580.0 362.8,562.7 363.4,566.0 364.0,560.0 364.7,587.4 365.3,560.6 365.9,578.7 366.5,561.7 367.1,582.4 367.7,569.9 368.2,606.8 368.8,588.7 369.3,574.6 369.9,578.4 370.4,591.0 371.0,577.8 371.6,570.1 372.1,598.8 372.7,592.6 373.2,595.1 373.8,600.0 374.3,589.7 374.9,635.2 375.4,597.3 376.0,576.9 376.6,598.5 377.1,624.6 377.7,602.7 378.2,571.7 378.9,618.9 379.5,592.6 380.1,605.5 380.7,619.4 381.4,603.6 382.0,584.6 382.6,612.0 383.2,606.8 383.8,609.5 384.4,590.8 384.9,588.5 385.5,593.1 386.0,583.5 386.6,594.8 387.1,575.3 387.7,584.9 388.3,567.6 388.8,582.7 389.4,577.4 389.9,581.8 390.5,584.0 391.0,575.8 391.6,588.5 392.2,584.4 392.9,577.1 393.5,587.1 394.1,585.1 394.7,586.2 395.2,577.1 395.8,566.7 396.4,594.5 397.0,577.9 397.7,599.1 398.3,583.4 398.8,594.8 399.4,577.2 399.9,613.5 400.5,601.1 401.1,592.2 401.6,583.4 402.2,611.0 402.7,594.7 403.3,601.8 403.9,605.7 404.5,593.4 405.2,608.5 405.8,626.9 406.4,619.3 406.9,595.3 407.5,591.8 408.1,615.1 408.7,595.8 409.3,618.2 410.0,610.2 410.6,603.4 411.2,593.3 411.9,601.2 412.5,601.8 413.1,609.0 413.7,595.8 414.4,606.3 415.0,586.8 415.5,603.3 416.1,582.7 416.6,608.5 417.3,603.8 417.9,585.3 418.5,593.4 419.2,571.7 419.7,600.7 420.3,591.2 420.8,606.8 421.4,581.3 421.9,558.9 422.5,581.8 423.1,578.5 423.8,573.7 424.4,580.8 425.0,546.7 425.6,594.3 426.1,571.1 426.7,573.4 427.3,574.4 427.9,555.0 428.6,576.3 429.2,601.8 429.7,591.9 430.3,575.6 430.9,568.4 431.5,598.5 432.1,575.9 432.8,596.1 433.4,576.4 434.0,593.5 434.6,582.3 435.3,579.9 435.9,590.5 436.5,590.2 437.1,591.9 437.6,581.7 438.2,573.5 438.7,592.0 439.3,574.3 439.9,588.6 440.4,582.2 441.0,574.0 441.5,570.2 442.4,597.8 442.9,584.4 443.5,567.0 444.0,563.5 444.6,580.1 445.1,572.8 445.7,561.0 446.2,581.3 446.8,566.0 447.4,590.2 448.2,573.5 448.8,583.8 449.5,570.6 450.1,581.9 450.7,576.9 451.3,582.1 451.8,575.3 452.4,576.9 452.9,568.1 453.5,573.9 454.1,576.9 454.7,577.6 455.3,564.4 455.9,574.7 456.6,554.3 457.2,575.3 457.8,564.2 458.4,580.5 459.1,573.5 459.6,581.0 460.2,566.2 460.7,586.1 461.4,579.7 462.0,572.7 462.6,581.7 463.2,576.9 463.8,575.9 464.4,573.4 464.9,570.2 465.5,575.7 466.0,565.6 466.6,563.5 467.1,572.9 467.7,567.9 468.2,576.9 468.8,575.9 469.4,569.1 469.9,563.5 470.5,572.8 471.0,570.8 471.6,581.0 472.1,575.1 472.7,567.2 473.3,568.5 473.9,571.4 474.5,564.0 475.1,576.0 475.8,565.2 476.4,566.0 477.0,559.0 477.6,562.4 478.3,561.8 478.9,564.0 479.5,559.6 480.2,563.4 480.8,555.1 481.4,570.1 482.0,563.5 482.7,571.0 483.3,568.5 483.8,574.2 484.4,566.5 484.9,583.5 485.8,553.5 486.3,575.3 486.9,561.5 487.5,585.2 488.0,581.4 488.6,566.8 489.1,561.8 489.7,581.6 490.2,560.4 490.8,547.6 491.6,586.9 492.3,572.9 492.9,552.1 493.5,572.8 494.1,558.5 494.8,572.6 495.4,552.6 496.0,556.1 496.6,545.1 497.3,557.2 497.9,550.1 498.5,557.4 499.1,556.8 499.8,559.3 500.4,549.1 501.0,567.2 501.7,561.8 502.3,570.6 502.9,565.6 503.5,576.9 504.2,573.5 504.7,576.7 505.3,565.2 505.8,580.2 506.4,577.9 506.9,574.3 507.5,571.9 508.1,576.0 508.6,576.1 509.2,578.2 509.7,574.6 510.3,580.2 510.9,575.2 511.4,580.7 512.0,551.8 512.5,581.9 513.1,576.1 513.6,553.7 514.2,548.5 514.7,570.7 515.3,542.2 515.9,526.8 516.4,565.4 517.0,551.9 517.5,573.5 518.2,572.2 518.8,545.7 519.4,560.8 520.0,581.0 520.9,545.1 521.4,574.7 522.0,553.5 522.5,536.8 523.1,568.4 523.7,559.7 524.2,583.5 524.8,572.7 525.3,560.9 525.9,588.6 526.4,576.1 527.0,579.4 527.5,587.2 528.1,580.3 528.7,582.1 529.2,575.2 529.8,579.7 530.3,577.2 530.9,584.8 531.4,578.4 532.0,586.4 532.6,571.9 533.1,585.0 533.7,577.9 534.2,591.9 534.9,592.4 535.5,579.6 536.1,591.0 536.7,573.5 537.3,590.8 537.9,580.3 538.4,596.9 539.0,585.5 539.7,555.8 540.3,584.4 540.9,571.9 541.5,571.8 542.0,548.3 542.6,539.3 543.1,566.1 543.7,545.0 544.3,551.8 544.8,560.4 545.4,551.4 545.9,559.9 546.5,548.7 547.0,564.0 547.6,551.0 548.2,563.7 548.7,555.2 549.3,571.9 549.8,561.7 550.4,554.6 550.9,565.0 551.5,559.4 552.1,569.7 552.6,556.8 553.2,568.4 553.9,560.4 554.5,566.5 555.1,565.2 555.7,563.7 556.2,561.5 556.8,566.5 557.3,568.7 557.9,582.4 558.5,566.9 559.1,580.7 559.7,568.5 560.3,575.2 561.0,595.2 561.5,573.2 562.1,569.6 562.6,561.8 563.2,583.7 563.7,565.5 564.3,555.1 564.9,586.5 565.4,560.0 566.0,578.5 566.5,578.2 567.1,570.9 567.6,596.9 568.2,582.5 568.8,571.1 569.3,566.9 569.9,583.4 570.4,577.1 571.0,581.9 571.6,586.5 572.2,561.5 572.9,577.1 573.5,586.9 574.1,578.5 574.7,568.5 575.4,579.4 576.0,551.8 576.6,582.2 577.2,568.7 577.9,578.8 578.5,576.9 579.1,566.4 579.8,560.5 580.4,570.4 581.0,580.2 581.6,569.3 582.1,557.8 582.7,548.5 583.3,572.9 583.9,548.5 584.6,558.9 585.2,563.5 585.8,560.7 586.4,537.5 587.1,564.9 587.7,522.6 588.2,563.7 588.8,537.3 589.4,573.5 589.9,548.2 590.5,543.2 591.0,536.8 591.6,556.3 592.1,547.4 592.7,563.4 593.3,551.6 593.8,553.2 594.4,573.5 594.9,573.0 595.5,563.7 596.0,536.8 596.7,574.2 597.3,542.5 597.9,576.7 598.5,586.1 599.1,564.9 599.7,552.1 600.2,540.1 600.8,579.9 601.5,553.8 602.1,582.0 602.7,565.2 603.6,586.1 604.1,569.3 604.7,547.6 605.2,548.5 605.9,578.1 606.5,545.5 607.1,570.5 607.7,523.4 608.3,555.5 608.9,542.8 609.4,565.2 610.0,554.7 610.7,533.6 611.3,552.5 611.9,538.5 612.5,553.4 613.2,540.9 613.8,542.2 614.4,550.1 615.0,556.6 615.5,547.0 616.1,533.4 616.7,560.8 617.3,543.4 618.0,560.0 618.6,571.9 619.2,557.4 619.7,533.0 620.3,556.8 620.9,568.0 621.5,543.8 622.1,562.6 622.8,530.1 623.3,549.9 623.9,540.3 624.4,556.8 625.3,521.7 625.9,547.7 626.5,538.2 627.2,543.0 627.8,543.5 628.3,549.0 628.9,524.3 629.5,558.5 630.0,547.0 630.6,530.8 631.1,525.1 631.7,550.7 632.2,538.8 632.8,552.1 633.4,533.4 633.9,559.8 634.5,540.1 635.0,556.5 635.6,540.5 636.1,553.4 636.7,539.8 637.3,559.6 637.8,568.5 638.4,558.1 638.9,530.7 639.5,538.5 640.1,556.1 640.7,529.8 641.4,543.8 642.0,514.2 642.6,537.7 643.2,534.2 643.9,539.0 644.5,540.1 645.0,538.4 645.6,531.2 646.2,551.8 646.7,550.0 647.3,544.3 647.8,548.8 648.4,543.9 648.9,548.0 649.5,548.5 650.1,548.7 650.6,540.6 651.2,545.1 651.7,542.6 652.3,545.3 652.8,538.5 653.4,543.9 654.0,531.1 654.5,534.7 655.1,530.4 655.6,535.6 656.2,526.8 656.7,531.8 657.3,527.0 657.9,533.4 658.5,528.5 659.1,525.3 659.7,530.3 660.4,521.7 661.0,532.6 661.6,524.5 662.2,525.9 662.9,535.1 663.5,525.7 664.1,523.0 664.7,529.5 665.4,515.1 666.0,528.6 666.6,526.6 667.3,523.3 667.9,533.4 668.4,525.4 669.0,520.9 669.5,525.6 670.1,522.0 670.7,527.9 671.2,516.7 671.8,526.1 672.4,510.4 673.0,512.8 673.6,509.0 674.2,522.4 674.8,507.8 675.4,505.0 676.0,527.1 676.6,521.3 677.3,527.7 677.9,541.8 678.5,523.7 679.0,511.7 679.6,532.3 680.1,512.4 680.7,518.1 681.2,515.1 681.9,532.0 682.5,505.8 683.1,519.6 683.8,490.8 684.3,531.0 684.9,499.0 685.4,523.4 686.0,529.2 686.7,516.1 687.3,529.8 687.9,550.1 688.6,541.7 689.2,516.1 689.8,534.2 690.4,526.8 691.1,530.4 691.7,516.4 692.3,539.0 692.9,506.7 693.5,534.2 694.1,520.8 694.6,521.4 695.2,518.0 695.7,523.2 696.3,543.5 696.8,521.5 697.4,525.8 698.0,510.1 698.5,535.8 699.1,515.9 699.6,530.5 700.2,517.5 700.7,530.2 701.3,528.4 701.9,533.3 702.5,503.3 703.2,534.9 703.8,536.8 704.4,520.6 705.0,515.8 705.7,530.2 706.3,491.7 706.9,535.6 707.6,513.0 708.2,513.3 708.8,530.1 709.4,520.8 710.1,505.9 710.7,523.3 711.3,503.4 711.9,522.7 712.4,511.9 713.0,520.4 713.5,517.9 714.1,529.6 714.6,523.4 715.3,529.6 715.9,509.5 716.5,527.4 717.2,535.1 717.8,531.7 718.4,508.4 719.0,517.7 719.7,501.7 720.3,515.2 720.9,505.5 721.5,521.2 722.2,496.7 722.8,518.0 723.4,509.2 724.1,528.2 724.7,540.1 725.2,526.5 725.8,504.3 726.3,530.5 726.9,520.4 727.5,528.2 728.0,511.7 728.6,536.8 729.2,522.6 729.7,520.8 730.3,499.2 730.9,518.8 731.5,498.4 732.0,535.1 732.8,505.7 733.7,490.1 734.5,471.7 735.1,517.1 735.6,482.1 736.2,498.5 736.7,501.0 737.3,476.9 737.9,488.4 738.4,511.1 739.0,490.6 739.5,503.5 740.1,518.7 740.6,500.6 741.2,535.2 741.8,517.1 742.4,513.5 743.1,520.7 743.7,501.8 744.2,527.5 744.8,510.6 745.4,520.2 746.0,518.1 746.6,504.9 747.2,509.0 747.9,495.1 748.4,519.7 749.0,507.0 749.5,526.9 750.4,491.8 750.9,505.0 751.5,499.6 752.0,520.2 752.7,519.8 753.3,498.1 753.9,505.1 754.5,481.8 755.1,509.4 755.7,490.6 756.2,521.9 756.8,498.4 757.5,477.3 758.1,497.7 758.7,496.8 759.3,509.6 759.8,481.9 760.4,473.4 761.2,470.1 761.8,498.0 762.4,479.7 762.9,508.5 763.5,489.6 764.0,486.6 764.6,483.4 765.1,495.6 765.7,490.9 766.2,495.1 766.8,505.4 767.4,500.6 767.9,510.2 768.5,526.4 769.2,510.7 769.8,527.3 770.4,518.5 771.0,517.4 771.5,509.3 772.1,533.5 772.7,520.8 773.3,508.4 774.0,527.0 774.6,500.1 775.2,523.9 775.9,505.9 776.5,517.5 777.1,523.5 777.7,513.2 778.2,504.2 778.8,505.1 779.3,514.7 779.9,510.2 780.5,510.2 781.1,517.2 781.7,500.8 782.3,509.0 783.0,506.8 783.6,505.5 784.2,500.8 784.8,507.7 785.5,495.1 786.0,509.3 786.6,503.0 787.1,505.4 787.7,499.7 788.2,503.8 788.8,511.8 789.4,506.6 789.9,502.9 790.5,501.8 791.0,507.4 791.6,503.2 792.1,508.1 792.7,494.4 793.3,497.7 793.8,503.5 794.4,504.1 795.1,485.5 795.7,494.6 796.3,475.1 796.9,487.2 797.6,482.5 798.2,485.2 798.8,490.1 799.4,491.1 799.9,477.4 800.5,473.4 801.0,490.6 801.6,471.9 802.2,495.1 802.8,493.8 803.4,473.0 804.0,491.8 804.7,468.4 805.2,506.0 805.8,477.7 806.3,501.8 807.0,515.6 807.6,478.3 808.2,501.8 808.9,521.9 809.4,513.4 810.0,490.9 810.5,515.8 811.1,480.5 811.6,503.5 812.2,473.4 812.8,514.4 813.4,483.6 814.1,487.0 814.7,496.8 815.3,492.2 815.9,479.0 816.6,490.3 817.2,486.8 817.8,491.3 818.5,484.1 819.1,494.3 819.7,471.7 820.3,489.7 820.8,481.2 821.4,490.1 821.9,475.9 822.5,492.1 823.0,500.1 823.7,489.1 824.3,488.9 824.9,492.7 825.5,480.1 826.1,491.8 826.7,487.4 827.2,490.1 827.8,485.3 828.5,482.7 829.1,493.0 829.7,483.4 830.4,496.2 831.0,485.1 831.6,493.4 832.2,498.5 832.8,490.5 833.3,486.5 833.9,492.4 834.5,487.0 835.0,493.1 835.6,481.8 836.1,493.1 836.7,484.1 837.2,487.3 837.8,484.3 838.4,486.4 838.9,488.4 839.5,487.4 840.0,485.8 840.6,487.2 841.1,486.4 841.7,494.8 842.3,485.1 842.8,491.1 843.4,490.8 843.9,494.6 844.5,489.0 845.0,491.2 845.6,498.5 846.2,490.7 846.7,491.5 847.3,496.1 847.8,490.4 848.4,497.2 848.9,486.8 849.5,496.4 850.1,487.7 850.6,490.4 851.2,489.5 851.7,490.3 852.3,493.5 852.8,491.3 853.4,491.3 854.0,491.9 854.5,491.1 855.1,492.5 855.6,490.1 856.2,492.8 856.7,491.4 857.3,492.8 857.8,491.2 858.4,490.5 859.0,493.5 859.5,489.9 860.1,490.8 860.6,498.5 861.2,489.2 861.7,499.2 862.3,485.1 862.9,498.1 863.4,484.0 864.0,503.5 864.5,489.5 865.1,475.1 865.6,473.4 866.2,492.9 866.8,477.3 867.3,492.9 867.9,476.9 868.4,477.2 869.0,473.4 869.5,476.9 870.1,477.3 870.7,479.7 871.2,463.8 871.8,479.2 872.3,481.8 873.0,475.7 873.6,468.7 874.2,484.4 874.8,459.2 875.5,480.4 876.1,466.3 876.7,479.0 877.3,485.1 877.9,480.1 878.5,470.1 879.0,463.4 879.6,478.2 880.1,471.3 880.7,488.4 881.2,492.5 881.8,471.6 882.4,466.7 882.9,484.5 883.5,483.1 884.0,496.8 884.6,494.2 885.1,477.7 885.7,494.0 886.2,470.5 886.8,490.5 887.4,500.1 888.0,492.4 888.6,475.4 889.2,488.0 889.9,466.7 890.5,489.5 891.1,465.5 891.7,475.9 892.4,480.1 892.9,479.8 893.5,473.2 894.0,462.6 894.7,482.0 895.3,471.3 895.9,481.3 896.5,486.8 897.2,479.5 897.8,469.9 898.4,486.1 899.1,476.8 899.6,483.2 900.2,480.0 900.7,480.1 901.3,482.8 901.8,479.1 902.4,486.8 903.0,484.6 903.5,469.5 904.1,482.7 904.6,475.3 905.2,483.5 905.7,474.0 906.3,491.2 906.9,472.2 907.4,465.1 908.0,499.8 908.7,487.9 909.3,510.2 909.9,503.5 910.5,513.4 911.0,490.4 911.6,511.8 912.2,508.7 912.8,507.6 913.5,509.4 914.1,506.8 914.7,511.1 915.3,494.0 916.0,503.0 916.6,512.7 917.2,504.4 917.9,498.9 918.5,495.3 919.1,485.1 919.7,499.9 920.2,480.1 920.8,484.5 921.3,480.7 921.9,492.6 922.4,483.4 923.0,486.9 923.6,484.3 924.1,478.4 924.7,493.6 925.2,485.4 925.8,498.5 926.4,488.7 927.0,483.4 927.7,489.7 928.3,485.1 928.9,496.9 929.5,493.5 930.1,493.2 930.7,487.0 931.3,492.8 931.9,487.2 932.5,498.5 933.0,498.5 933.6,495.6 934.1,497.7 934.7,496.0 935.3,497.0 935.8,496.7 936.4,497.8 936.9,495.8 937.5,495.1 938.0,496.1 938.6,495.4 939.2,496.5 939.7,495.9 940.3,496.6 940.8,496.8 941.4,494.6 941.9,488.0 942.5,491.0 943.0,489.1 943.6,496.2 944.2,483.4 944.8,492.9 945.4,488.8 946.0,490.3 946.7,493.5 947.3,490.3 947.9,488.1 948.5,493.1 949.2,491.8 949.7,489.1 950.3,487.2 950.8,490.1 951.4,481.6 952.0,499.2 952.5,480.1 953.1,493.6 953.6,484.6 954.2,495.7 954.7,483.7 955.3,493.8 955.9,501.8 956.4,490.8 957.0,491.1 957.5,481.8 958.1,495.8 958.7,487.1 959.3,498.9 959.9,485.4 960.5,483.4 961.1,463.3 961.7,495.1 962.3,479.1 963.0,459.4 963.6,489.8 964.2,445.0 964.8,478.7 965.3,462.3 965.9,476.3 966.4,451.6 967.0,468.8 967.5,481.8 968.1,478.9 968.7,472.2 969.2,476.9 969.8,474.5 970.3,476.8 970.9,470.1 971.4,476.1 972.0,470.7 972.6,473.4 973.1,470.9 973.7,475.7 974.2,475.1 974.8,475.4 975.3,469.6 975.9,478.0 976.5,469.0 977.0,477.5 977.6,480.1 978.1,476.8 978.7,472.3 979.2,466.7 979.8,482.3 980.4,474.6 980.9,485.7 981.5,478.5 982.0,493.3 982.6,495.1 983.1,490.4 983.7,481.9 984.3,491.5 984.8,483.7 985.4,491.4 985.9,496.8 986.5,493.6 987.0,449.2 987.6,470.1 988.2,489.0 988.7,451.5 989.3,487.0 989.8,462.6 990.4,469.9 990.9,441.7 991.5,462.9 992.1,452.5 992.6,459.2 993.2,451.6 993.7,464.4 994.3,466.7 994.9,467.6 995.5,456.3 996.2,471.0 996.8,471.7 997.4,465.6 998.0,448.9 998.7,457.8 999.3,441.7 999.9,461.6 1000.5,441.2 1001.2,450.5 1001.8,440.0 1002.4,450.0 1003.0,442.2 1003.7,450.1 1004.3,458.4 1004.9,452.4 1005.4,443.6 1006.0,456.7 1006.5,453.8 1007.1,456.9 1007.6,452.9 1008.2,457.3 1008.8,455.2 1009.3,450.0 1009.9,459.0 1010.4,457.8 1011.0,470.7 1011.5,458.7 1012.1,470.5 1012.6,465.1 1013.2,469.2 1013.8,464.1 1014.3,473.4 1014.9,467.9 1015.4,463.5 1016.0,468.4 1016.6,464.1 1017.1,470.1 1017.7,460.1 1018.2,471.2 1018.8,455.2 1019.3,457.2 1019.9,456.0 1020.5,457.7 1021.0,455.1 1021.6,457.2 1022.1,459.3 1022.7,453.4 1023.2,461.9 1023.8,458.4 1024.3,460.5 1024.9,457.2 1025.5,464.7 1026.0,466.7 1026.6,466.9 1027.2,467.5 1027.7,469.5 1028.3,467.3 1028.9,469.6 1029.5,467.8 1030.0,470.1 1030.7,469.7 1031.3,462.9 1031.9,469.5 1032.5,468.5 1033.1,466.6 1033.8,459.9 1034.4,465.7 1035.0,453.4 1035.6,462.6 1036.3,458.3 1036.9,458.9 1037.5,460.1 1038.1,458.4 1038.8,456.4 1039.4,455.5 1040.0,456.8 1040.6,456.8 1041.1,457.5 1041.7,463.2 1042.2,455.7 1042.8,465.3 1043.4,448.4 1043.9,466.4 1044.5,458.1 1045.0,466.8 1045.6,468.5 1046.2,458.6 1046.7,476.0 1047.3,472.4 1047.8,467.3 1048.4,463.5 1048.9,470.7 1049.5,452.4 1050.0,471.8 1050.7,474.1 1051.3,454.4 1051.9,463.4 1052.5,471.8 1053.4,441.8 1053.9,465.9 1054.5,436.2 1055.1,433.4 1055.7,448.7 1056.3,445.6 1056.9,449.9 1057.6,455.1 1058.1,450.0 1058.7,432.8 1059.2,431.7 1059.8,453.6 1060.4,442.1 1060.9,460.1 1061.5,451.0 1062.0,434.6 1062.6,431.7 1063.1,451.0 1063.7,445.4 1064.2,451.8 1064.8,455.9 1065.4,440.9 1065.9,430.9 1066.5,453.7 1067.0,444.7 1067.6,471.8 1068.1,460.0 1068.7,434.9 1069.3,430.1 1069.9,450.4 1070.5,440.1 1071.1,447.9 1071.8,441.8 1072.3,439.4 1072.9,424.6 1073.4,426.7 1074.0,438.8 1074.5,434.9 1075.1,445.1 1075.7,462.1 1076.2,430.3 1076.8,420.0 1077.3,454.7 1077.9,441.1 1078.5,475.2 1079.0,455.0 1079.6,429.7 1080.1,455.1 1081.0,436.7 1081.5,456.5 1082.1,445.7 1082.6,455.1 1083.2,452.9 1083.9,445.7 1084.5,453.0 1085.1,446.8 1085.7,454.1 1086.2,448.5 1086.8,450.7 1087.4,451.6 1087.9,453.5 1088.5,451.8 1089.1,455.2 1089.7,455.1 1090.4,457.0 1091.0,460.1 1091.6,459.0 1092.2,455.4 1092.9,458.7 1093.5,456.8 1094.0,459.3 1094.6,453.7 1095.2,455.2 1095.7,445.1 1096.3,449.5 1096.8,446.8 1097.4,449.4 1098.1,446.7 1098.7,450.3 1099.3,440.1 1100.0,449.7 1100.6,442.5 1101.2,452.4 1101.8,455.1 1102.4,448.3 1102.9,447.1 1103.5,454.6 1104.1,454.1 1104.6,457.0 1105.2,455.5 1105.7,458.0 1106.3,455.8 1106.8,453.4 1107.4,457.2 1108.0,452.1 1108.5,460.1 1109.1,455.9 1109.6,450.5 1110.2,454.9 1110.7,449.8 1111.3,454.8 1111.9,446.8 1112.4,456.9 1113.0,448.0 1113.5,450.1 1114.1,447.6 1114.6,450.6 1115.2,453.4 1115.8,458.9 1116.3,452.1 1116.9,448.4 1117.5,461.7 1118.1,457.3 1118.8,465.5 1119.4,468.5 1120.0,478.4 1120.6,451.1 1121.3,474.8 1121.9,485.2 1122.5,475.9 1123.1,461.8 1123.8,477.1 1124.4,450.1 1125.0,474.4 1125.6,461.5 1126.3,459.4 1126.9,460.1 1127.4,459.9 1128.0,454.8 1128.6,459.9 1129.1,448.1 1129.7,454.2 1130.2,458.5 1130.9,456.9 1131.5,445.0 1132.1,453.5 1132.7,438.4 1133.3,452.5 1133.9,446.6 1134.4,446.8 1135.0,449.4 1135.6,441.4 1136.2,449.1 1136.8,446.6 1137.4,451.2 1138.0,448.6 1138.6,453.4 1139.1,455.9 1139.7,449.4 1140.3,445.1 1140.8,457.6 1141.4,452.0 1141.9,460.1 1142.5,454.3 1143.0,449.1 1143.6,456.7 1144.2,451.5 1144.7,458.5 1145.3,455.1 1145.8,458.5 1146.4,452.6 1146.9,462.4 1147.5,450.9 1148.1,459.5 1148.6,448.4 1149.2,456.8 1149.7,454.1 1150.3,465.1 1150.8,461.6 1151.4,452.5 1152.0,450.1 1152.6,459.7 1153.2,456.4 1153.8,462.7 1154.5,465.1 1155.1,459.0 1155.7,453.3 1156.3,462.8 1157.0,456.8 1157.5,462.3 1158.1,459.0 1158.6,456.8 1159.2,456.8 1159.7,460.9 1160.3,458.4 1160.9,460.1 1161.4,459.5 1162.0,456.8 1162.5,464.9 1163.1,460.3 1163.7,463.5 1164.3,467.1 1164.9,465.2 1165.5,467.7 1166.2,468.5 1166.7,467.5 1167.3,462.3 1167.8,475.2 1168.4,468.7 1168.9,465.8 1169.5,455.1 1170.0,469.0 1170.6,451.7 1171.2,469.3 1171.8,469.0 1172.4,446.1 1173.0,457.5 1173.7,446.8 1174.2,448.7 1174.8,442.6 1175.3,438.4 1176.0,441.3 1176.6,435.7 1177.2,444.9 1177.8,433.4 1178.5,448.2 1179.1,436.3 1179.7,445.0 1180.3,455.1 1180.9,452.1 1181.5,435.3 1182.0,435.1 1182.6,455.9 1183.3,443.0 1183.9,457.3 1184.5,468.5 1185.2,452.2 1185.8,447.1 1186.4,464.9 1187.0,443.4 1187.7,463.2 1188.3,446.0 1188.9,451.9 1189.5,455.1 1190.2,448.6 1190.8,441.8 1191.4,451.1 1192.0,445.1 1192.7,448.3 1193.3,445.7 1193.9,451.1 1194.5,440.1 1195.2,446.4 1195.8,439.9 1196.4,445.2 1197.1,453.4 1197.6,446.5 1198.2,439.6 1198.7,438.4 1199.4,454.9 1200.0,443.5 1200.6,459.2 1201.2,435.1 1201.8,456.7 1202.3,441.2 1202.9,466.8 1203.5,459.1 1204.0,445.1 1204.6,450.1 1205.2,460.3 1205.8,453.8 1206.4,459.3 1207.0,450.6 1207.6,452.6 1208.2,451.6 1208.8,450.1 1209.3,460.2 1209.9,453.5 1210.4,455.1 1211.0,460.4 1211.7,454.7 1212.3,464.6 1212.9,470.1 1213.6,469.4 1214.2,456.0 1214.8,468.1 1215.4,466.8 1216.1,471.1 1216.7,466.2 1217.3,471.8 1217.9,453.4 1218.5,470.5 1219.1,449.4 1219.6,478.5 1220.2,458.2 1220.9,451.7 1221.5,468.2 1222.1,445.1 1222.7,465.5 1223.2,446.3 1223.8,441.8 1224.3,447.0 1224.9,444.6 1225.5,446.5 1226.0,443.4 1226.6,446.7 1227.1,448.4 1227.7,445.6 1228.2,446.5 1228.8,447.6 1229.4,446.2 1229.9,449.6 1230.5,445.1 1231.1,449.2 1231.7,448.8 1232.3,451.8 1233.0,453.4 1233.6,449.2 1234.2,446.3 1234.8,452.4 1235.4,447.3 1236.0,450.2 1236.6,438.6 1237.2,445.1 1237.7,439.5 1238.3,437.8 1238.8,442.4 1239.4,443.5 1239.9,446.6 1240.5,433.4 1241.1,448.2 1241.7,438.8 1242.4,451.5 1243.0,458.5 1243.6,446.2 1244.1,437.0 1244.7,435.1 1245.3,452.2 1245.9,441.3 1246.5,452.7 1247.2,451.8 1247.7,449.4 1248.3,442.8 1248.8,450.5 1249.4,452.6 1250.0,462.3 1250.5,448.4 1251.1,459.2 1251.8,456.3 1252.4,457.7 1253.0,468.5 1253.6,454.9 1254.1,450.0 1254.7,461.6 1255.2,452.5 1255.8,463.8 1256.4,443.4 1257.0,461.1 1257.6,452.0 1258.2,454.6 1258.9,461.8 1259.4,456.6 1260.0,452.3 1260.5,460.4 1261.1,458.7 1261.7,459.6 1262.2,456.8 1262.8,458.8 1263.3,450.5 1263.9,455.0 1264.4,452.7 1265.0,457.2 1265.5,448.4 1266.2,456.7 1266.8,460.0 1267.4,469.3 1268.1,460.1 1268.7,466.6 1269.3,464.4 1269.9,480.0 1270.6,475.2 1271.2,474.0 1271.8,456.6 1272.4,473.9 1273.1,481.9 1273.6,468.9 1274.2,452.6 1274.7,445.1 1275.4,466.6 1276.0,454.1 1276.6,473.5 1277.2,463.5 1277.9,453.6 1278.5,450.2 1279.1,459.7 1279.8,448.4 1280.4,453.6 1281.0,437.5 1281.6,450.2 1282.3,458.5 1282.8,439.2 1283.4,430.0 1283.9,428.4 1284.6,436.2 1285.2,423.7 1285.8,448.8 1286.4,416.7 1287.0,434.1 1287.5,424.8 1288.1,436.7 1288.7,430.0 1289.2,422.1 1289.8,428.6 1290.3,422.2 1290.9,431.3 1291.4,420.9 1292.0,430.4 1292.6,423.2 1293.1,426.0 1293.7,422.1 1294.2,426.3 1294.8,430.1 1295.3,429.2 1295.9,428.1 1296.5,428.6 1297.0,428.2 1297.6,432.4 1298.1,426.7 1298.8,433.1 1299.4,429.2 1300.0,431.1 1300.6,435.1 1301.2,428.6 1301.7,424.3 1302.3,431.1 1302.9,423.6 1303.4,424.5 1304.0,421.7 1304.5,424.9 1305.1,416.6 1305.6,420.7 1306.2,417.2 1306.8,420.2 1307.3,415.0 1307.9,418.3 1308.5,412.3 1309.1,413.7 1309.7,412.0 1310.3,422.4 1310.9,417.8 1311.5,410.9 1312.1,432.4 1312.7,421.5 1313.4,439.7 1314.0,438.4 1314.6,436.9 1315.1,424.6 1315.7,443.1 1316.2,429.6 1316.8,445.8 1317.3,448.4 1317.9,444.5 1318.5,437.7 1319.0,423.4 1319.6,443.7 1320.3,434.8 1320.9,438.6 1321.5,448.4 1322.1,437.5 1322.8,425.7 1323.4,438.6 1324.0,423.4 1324.6,437.3 1325.2,433.6 1325.7,429.3 1326.3,426.4 1326.9,430.1 1327.5,426.6 1328.0,433.4 1328.7,434.0 1329.3,432.2 1329.9,433.8 1330.5,430.1 1331.3,435.1 1331.9,433.1 1332.5,432.1 1333.0,435.9 1333.6,433.0 1334.1,435.7 1334.7,434.7 1335.2,435.5 1335.8,434.8 1336.3,436.8 1336.9,434.1 1337.5,431.9 1338.0,433.5 1338.6,434.3 1339.3,428.1 1339.9,432.1 1340.5,430.1 1341.1,431.0 1341.6,426.1 1342.2,425.1 1342.8,429.6 1343.5,426.0 1344.1,428.8 1344.7,423.4 1345.3,427.1 1345.8,425.9 1346.4,433.5 1346.9,440.8 1347.5,422.5 1348.0,421.8 1348.6,442.2 1349.2,426.9 1349.7,443.5 1350.5,448.5 1351.4,416.8 1351.9,439.8 1352.5,420.3 1353.1,415.9 1353.6,437.8 1354.2,414.0 1354.7,426.8 1355.4,421.1 1356.0,417.9 1356.6,424.8 1357.2,421.8 1357.9,423.9 1358.5,421.9 1359.1,424.1 1359.7,420.1 1360.3,425.5 1360.9,421.0 1361.4,425.1 1362.0,428.5 1362.7,423.3 1363.3,425.9 1363.9,430.1 1364.5,429.7 1365.1,426.9 1365.7,431.2 1366.3,425.4 1366.9,429.3 1367.5,422.6 1368.1,431.8 1368.6,427.4 1369.2,424.5 1369.8,419.3 1370.3,429.4 1370.9,423.2 1371.4,426.8 1372.0,425.9 1372.5,418.8 1373.1,421.8 1373.7,426.6 1374.4,425.3 1375.0,431.2 1375.6,420.1 1376.5,435.1 1377.0,427.6 1377.6,423.1 1378.1,426.8 1378.7,431.1 1379.2,425.9 1379.8,439.6 1380.3,427.1 1380.9,432.7 1381.5,417.6 1382.0,432.5 1382.6,425.4 1383.1,443.5 1383.8,436.7 1384.4,425.7 1385.0,435.2 1385.6,431.8 1386.3,439.8 1386.9,430.8 1387.5,442.2 1388.1,426.8 1388.7,452.4 1389.3,430.8 1389.8,446.8 1390.4,447.2 1391.1,439.6 1391.7,447.1 1392.3,462.7 1392.9,454.0 1393.6,443.2 1394.2,459.2 1394.8,438.5 1395.4,459.3 1395.9,439.8 1396.5,460.2 1397.0,445.6 1397.6,430.9 1398.2,428.4 1398.7,440.2 1399.3,420.4 1399.8,446.8 1400.4,444.1 1400.9,429.5 1401.5,417.6 1402.1,449.7 1402.6,434.8 1403.2,421.8 1404.0,459.4 1404.6,451.3 1405.3,431.2 1405.9,456.3 1406.5,448.5 1407.1,449.0 1407.6,451.2 1408.2,454.0 1408.7,451.5 1409.3,455.6 1409.9,456.9 1410.4,455.5 1411.0,455.8 1411.5,456.1 1412.1,455.6 1412.6,453.8 1413.2,455.2 1413.8,456.3 1414.3,450.9 1414.9,452.4 1415.4,450.9 1416.0,450.3 1416.5,448.5 1417.1,451.0 1417.7,446.1 1418.2,447.4 1418.8,446.3 1419.3,447.2 1419.9,445.1 1420.4,447.5 1421.0,445.5 1421.6,446.3 1422.1,443.6 1422.7,445.7 1423.2,446.8 1423.8,445.2 1424.5,446.3 1425.1,450.1 1425.7,442.6 1426.4,448.9 1427.0,438.7 1427.6,445.8 1428.2,451.8 1428.9,448.5 1429.5,432.1 1430.1,438.9 1430.7,428.4 1431.4,437.4 1432.0,432.2 1432.6,436.8 1433.2,423.4 1433.8,436.3 1434.4,428.1 1434.9,428.4 1435.5,438.2 1436.0,429.4 1436.6,446.8 1437.1,439.6 1437.7,433.9 1438.3,436.8 1438.9,443.9 1439.5,438.2 1440.1,443.7 1440.8,430.1 1441.3,435.3 1441.9,427.8 1442.4,443.5 1443.0,437.6 1443.5,434.3 1444.1,424.3 1444.7,439.5 1445.4,431.0 1446.0,443.2 1446.6,443.5 1447.2,440.3 1447.7,426.7 1448.3,438.9 1448.8,436.9 1449.4,439.1 1449.9,435.6 1450.5,439.7 1451.1,434.2 1451.6,433.5 1452.2,436.1 1452.9,433.7 1453.5,446.5 1454.1,436.8 1454.8,448.0 1455.4,437.0 1456.0,444.9 1456.6,453.5 1457.2,448.0 1457.7,443.1 1458.3,441.8 1458.9,447.0 1459.6,440.2 1460.2,448.2 1460.8,435.1 1461.7,453.5 1462.2,452.4 1462.8,447.7 1463.3,450.6 1463.9,442.5 1464.4,452.9 1465.0,456.9 1465.5,459.1 1466.1,457.6 1466.7,459.9 1467.2,450.1 1467.8,459.4 1468.3,461.9 1469.0,459.6 1469.6,450.3 1470.2,459.7 1470.8,445.1 1471.4,457.8 1471.9,455.6 1472.5,458.5 1473.1,459.6 1473.8,447.2 1474.4,455.8 1475.0,463.5 1475.6,460.3 1476.3,455.8 1476.9,460.8 1477.5,448.5 1478.1,455.7 1478.7,448.6 1479.3,447.7 1479.9,446.6 1480.5,447.0 1481.1,443.1 1481.7,445.1 1482.3,443.9 1482.9,434.9 1483.6,439.5 1484.2,441.8 1484.8,434.0 1485.3,420.6 1485.9,425.1 1486.5,431.8 1487.1,418.5 1487.7,429.3 1488.4,413.4 1489.0,420.4 1489.6,419.8 1490.3,429.2 1490.9,412.6 1491.5,435.8 1492.1,415.6 1492.8,438.5 1493.4,446.8 1493.9,435.8 1494.5,422.3 1495.1,430.1 1495.6,444.4 1496.2,437.2 1496.7,446.8 1497.3,444.5 1497.8,433.5 1498.4,435.1 1499.0,443.0 1499.5,440.9 1500.1,448.5 1500.7,438.8 1501.3,429.4 1501.9,442.2 1502.6,438.5 1503.1,440.2 1503.7,423.2 1504.2,415.1 1504.9,436.6 1505.5,427.5 1506.1,437.8 1506.8,438.5 1507.4,435.1 1508.0,423.2 1508.6,435.8 1509.3,435.1 1509.9,433.8 1510.5,425.0 1511.1,432.0 1511.8,426.8 1512.3,427.9 1512.9,417.9 1513.4,416.8 1514.0,421.2 1514.5,416.3 1515.1,420.4 1515.7,417.7 1516.2,420.9 1516.8,415.9 1517.3,421.8 1517.9,419.6 1518.4,421.6 1519.0,419.9 1519.6,426.9 1520.1,425.1 1520.7,426.9 1521.2,427.5 1521.8,428.1 1522.3,427.1 1522.9,430.3 1523.5,430.1 1524.0,429.4 1524.6,430.1 1525.1,430.1 1525.7,430.1 1526.2,432.3 1526.8,430.1 1527.4,432.1 1527.9,431.7 1528.5,432.4 1529.0,431.1 1529.6,429.9 1530.1,433.5 1530.7,432.1 1531.3,428.1 1531.8,430.4 1532.4,427.2 1532.9,429.3 1533.5,425.1 1534.0,428.9 1534.6,421.0 1535.2,423.6 1535.7,421.9 1536.3,422.8 1536.8,420.1 1537.4,423.7 1537.9,417.9 1538.5,419.1 1539.0,417.9 1539.6,423.9 1540.2,422.8 1540.7,424.8 1541.3,428.3 1541.8,416.8 1542.4,436.6 1542.9,424.6 1543.5,433.5 1544.1,431.9 1544.6,421.7 1545.2,438.5 1545.7,433.0 1546.3,430.4 1546.8,436.0 1547.4,429.5 1548.0,443.9 1548.5,421.8 1549.1,436.9 1549.6,430.5 1550.2,436.1 1550.7,429.2 1551.3,444.1 1551.9,445.1 1552.5,442.1 1553.1,432.6 1553.7,440.0 1554.4,443.5 1555.0,442.8 1555.6,432.3 1556.2,439.4 1556.9,415.9 1557.5,438.6 1558.1,410.2 1558.7,423.8 1559.4,430.1 1560.0,423.1 1560.6,405.3 1561.3,416.9 1561.9,405.1 1562.5,420.5 1563.1,415.5 1563.8,414.8 1564.4,406.7 1564.9,423.0 1565.5,415.1 1566.1,426.8 1566.7,422.9 1567.3,413.9 1567.9,423.8 1568.6,426.8 1569.1,423.1 1569.7,411.0 1570.2,408.4 1570.9,420.4 1571.5,414.6 1572.1,418.1 1572.7,405.1 1573.4,414.3 1574.0,408.8 1574.6,417.2 1575.2,421.8 1575.8,418.4 1576.4,409.1 1576.9,411.7 1577.5,420.3 1578.0,414.1 1578.6,418.3 1579.1,414.7 1579.7,416.0 1580.3,416.8 1580.8,416.1 1581.4,415.7 1581.9,416.2 1582.5,415.5 1583.0,416.1 1583.6,415.1 1584.2,416.2 1584.8,413.3 1585.4,414.3 1586.0,412.8 1586.6,417.1 1587.2,413.9 1587.8,411.7 1588.4,418.7 1589.0,413.1 1589.7,420.1 1590.3,421.8 1590.8,419.1 1591.4,415.1 1592.0,421.8 1592.5,421.8 1593.1,421.8 1593.6,421.8 1594.2,421.8 1594.7,421.8 1595.3,421.8 1595.9,425.1 1596.5,423.8 1597.1,425.5 1597.7,423.8 1598.3,424.8 1598.9,421.4 1599.5,426.8 1600.1,425.5 1600.7,422.4 1601.3,424.9 1602.0,420.1 1602.5,426.3 1603.1,422.3 1603.6,423.4 1604.2,416.9 1604.8,421.6 1605.3,425.1 1605.9,422.5 1606.6,418.2 1607.2,422.1 1607.8,413.4 1608.4,425.0 1609.1,416.7 1609.7,422.4 1610.3,423.4 1610.9,420.8 1611.4,418.6 1612.0,423.1 1612.6,416.4 1613.1,422.1 1613.7,421.8 1614.3,420.5 1614.9,416.1 1615.5,420.2 1616.2,413.4 1616.8,419.7 1617.4,416.5 1618.1,422.5 1618.7,420.1 1619.2,423.5 1619.8,416.2 1620.3,425.9 1620.9,423.0 1621.5,424.9 1622.0,426.8 1622.6,425.8 1623.2,424.3 1623.7,425.9 1624.3,424.0 1624.9,425.8 1625.5,424.7 1626.0,423.4 1626.7,425.9 1627.3,425.2 1627.9,427.7 1628.5,426.8 1629.1,428.4 1629.8,425.5 1630.4,428.2 1631.0,430.1 1631.6,427.5 1632.3,424.4 1632.9,428.8 1633.5,423.4 1634.1,428.5 1634.8,425.3 1635.4,427.0 1636.0,426.8 1636.6,426.4 1637.1,424.0 1637.7,428.4 1638.3,427.0 1638.9,418.7 1639.6,426.5 1640.2,420.1 1640.8,421.9 1641.3,417.0 1641.9,415.1 1642.5,417.5 1643.1,416.2 1643.7,418.3 1644.3,414.9 1644.8,415.7 1645.4,414.0 1646.0,416.8 1646.6,415.9 1647.2,411.7 1647.7,413.4 1648.3,415.5 1648.8,412.6 1649.4,416.7 1649.9,412.5 1650.5,413.3 1651.0,408.4 1651.6,415.6 1652.2,411.9 1652.7,416.8 1653.3,413.3 1654.0,409.5 1654.6,412.5 1655.2,411.8 1655.9,414.4 1656.5,410.2 1657.1,411.0 1657.7,410.9 1658.4,413.7 1659.0,406.8 1659.6,416.3 1660.2,410.1 1661.1,404.2 1661.9,420.1 1662.5,420.1 1663.2,408.7 1663.8,418.3 1664.4,428.4 1665.0,420.0 1665.5,401.7 1666.1,410.1 1666.6,424.8 1667.2,411.9 1667.8,416.8 1668.4,410.9 1669.1,395.1 1669.8,409.0 1670.4,399.3 1671.1,413.4 1671.6,408.5 1672.2,401.5 1672.8,398.4 1673.3,409.5 1673.9,404.8 1674.4,408.4 1675.0,411.6 1675.5,401.9 1676.1,400.1 1676.7,408.0 1677.2,402.3 1677.8,410.1 1678.3,409.9 1678.9,402.5 1679.4,403.4 1680.0,412.2 1680.6,409.8 1681.1,418.4 1681.7,413.4 1682.4,409.3 1683.0,416.7 1683.6,413.4 1684.2,416.6 1684.7,414.8 1685.3,418.4 1686.1,413.4 1686.7,416.4 1687.4,415.0 1688.0,416.6 1688.6,418.4 1689.2,417.1 1689.7,414.0 1690.3,417.4 1690.9,413.9 1691.4,415.4 1692.0,415.1 1692.6,415.9 1693.2,411.7 1693.8,420.6 1694.5,410.1 1695.0,416.2 1695.6,410.6 1696.1,411.8 1696.7,419.2 1697.3,410.8 1697.8,425.1 1698.4,416.7 1699.1,414.8 1699.7,419.2 1700.3,415.1 1700.9,423.3 1701.4,418.7 1702.0,410.1 1702.5,417.4 1703.1,411.4 1703.7,426.8 1704.3,420.9 1704.9,408.7 1705.5,422.9 1706.2,413.4 1706.7,422.9 1707.3,412.8 1707.8,408.4 1708.4,419.2 1708.9,410.2 1709.5,426.8 1710.1,417.5 1710.8,415.3 1711.4,417.0 1712.0,408.4 1712.6,418.8 1713.3,413.3 1713.9,414.2 1714.5,420.1 1715.1,417.2 1715.6,408.2 1716.2,411.8 1716.8,420.4 1717.4,406.9 1718.1,416.0 1718.7,401.7 1719.5,423.4 1720.1,419.4 1720.8,403.5 1721.4,413.9 1722.0,411.8 1722.7,412.8 1723.3,407.5 1723.9,410.7 1724.5,408.4 1725.2,424.2 1725.8,410.7 1726.4,423.5 1727.0,406.7 1727.6,415.2 1728.2,409.4 1728.7,435.1 1729.3,420.8 1730.0,405.5 1730.6,417.0 1731.2,401.7 1731.8,425.7 1732.3,412.2 1732.9,416.8 1733.5,417.0 1734.1,407.5 1734.8,415.9 1735.4,400.1 1735.9,416.3 1736.5,402.9 1737.1,420.1 1737.7,411.7 1738.3,402.5 1738.9,414.1 1739.6,403.4 1740.1,420.9 1740.7,413.9 1741.2,418.7 1741.8,408.3 1742.3,410.9 1742.9,421.8 1743.5,416.6 1744.0,411.2 1744.6,414.2 1745.1,411.5 1745.7,419.2 1746.2,405.1 1746.8,421.3 1747.4,408.1 1747.9,423.2 1748.5,408.8 1749.0,422.1 1749.6,428.4 1750.1,419.8 1750.7,404.5 1751.2,410.1 1751.9,417.2 1752.5,409.5 1753.1,415.1 1753.8,399.2 1754.4,408.8 1755.0,404.3 1755.6,412.3 1756.3,413.4 1756.8,409.8 1757.4,403.4 1757.9,400.1 1758.5,411.1 1759.0,402.7 1759.6,416.8 1760.2,411.5 1760.9,405.3 1761.5,413.5 1762.1,398.4 1762.7,411.8 1763.2,405.5 1763.8,420.1 1764.6,403.4 1765.2,423.9 1765.9,407.3 1766.5,425.6 1767.1,430.1 1767.7,422.3 1768.2,405.0 1768.8,410.1"/>
</svg></body></html>
